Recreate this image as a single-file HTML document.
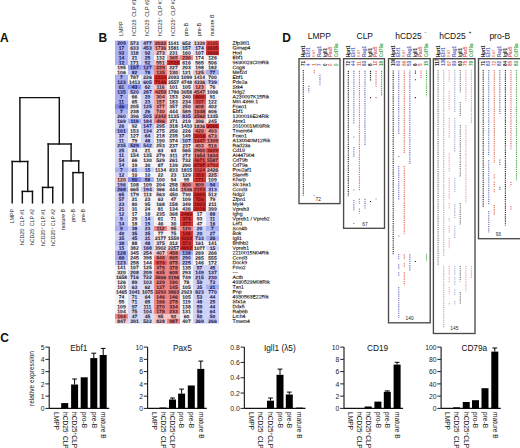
<!DOCTYPE html><html><head><meta charset="utf-8"><style>
html{overflow:hidden;} html,body{margin:0;padding:0;background:#fff;} body{width:520px;height:448px;overflow:hidden;position:relative;font-family:"Liberation Sans", sans-serif;color:#111;}
.t{position:absolute;white-space:nowrap;line-height:1;}
.r{position:absolute;white-space:nowrap;transform-origin:0 0;}
.lbl{position:absolute;font-weight:bold;font-size:12px;line-height:1;}
.hm{position:absolute;left:115px;top:40.6px;width:104px;}
.c{position:absolute;width:13px;height:4.88px;font-size:5.4px;line-height:4.88px;text-align:center;color:#22244a;}
.g{position:absolute;left:232.5px;font-size:5px;line-height:4.88px;height:4.88px;white-space:nowrap;color:#111;}
svg{position:absolute;left:0;top:0;}
</style></head><body>
<div class="lbl" style="left:0px;top:31.6px">A</div>
<div class="lbl" style="left:98.6px;top:31.6px">B</div>
<div class="lbl" style="left:282.2px;top:31.6px">D</div>
<div class="lbl" style="left:0.2px;top:332.3px">C</div>
<div class="t" style="left:14.60px;top:406.06px;width:30px;text-align:right;font-size:6.8px;font-weight:normal;color:#222">0</div>
<div class="t" style="left:14.60px;top:393.80px;width:30px;text-align:right;font-size:6.8px;font-weight:normal;color:#222">1</div>
<div class="t" style="left:14.60px;top:381.54px;width:30px;text-align:right;font-size:6.8px;font-weight:normal;color:#222">2</div>
<div class="t" style="left:14.60px;top:369.28px;width:30px;text-align:right;font-size:6.8px;font-weight:normal;color:#222">3</div>
<div class="t" style="left:14.60px;top:357.02px;width:30px;text-align:right;font-size:6.8px;font-weight:normal;color:#222">4</div>
<div class="t" style="left:14.60px;top:344.76px;width:30px;text-align:right;font-size:6.8px;font-weight:normal;color:#222">5</div>
<div class="r" style="left:59.80px;top:411.60px;width:45px;height:7.59px;line-height:7.59px;font-size:6.6px;color:#111;text-align:left;transform:rotate(90deg);">LMPP</div>
<div class="r" style="left:68.50px;top:411.60px;width:45px;height:7.59px;line-height:7.59px;font-size:6.6px;color:#111;text-align:left;transform:rotate(90deg);">hCD25<span style="font-size:70%;vertical-align:0.45em;line-height:0">-</span> CLP</div>
<div class="r" style="left:78.39px;top:411.60px;width:45px;height:7.59px;line-height:7.59px;font-size:6.6px;color:#111;text-align:left;transform:rotate(90deg);">hCD25<span style="font-size:70%;vertical-align:0.45em;line-height:0">+</span>CLP</div>
<div class="r" style="left:88.00px;top:411.60px;width:45px;height:7.59px;line-height:7.59px;font-size:6.6px;color:#111;text-align:left;transform:rotate(90deg);">pro-B</div>
<div class="r" style="left:97.59px;top:411.60px;width:45px;height:7.59px;line-height:7.59px;font-size:6.6px;color:#111;text-align:left;transform:rotate(90deg);">pre-B</div>
<div class="r" style="left:107.00px;top:411.60px;width:45px;height:7.59px;line-height:7.59px;font-size:6.6px;color:#111;text-align:left;transform:rotate(90deg);">mature B</div>
<div class="t" style="left:70.30px;top:344.30px;font-size:8.3px;">Ebf1</div>
<div class="t" style="left:113.00px;top:406.06px;width:30px;text-align:right;font-size:6.8px;font-weight:normal;color:#222">0</div>
<div class="t" style="left:113.00px;top:393.80px;width:30px;text-align:right;font-size:6.8px;font-weight:normal;color:#222">2</div>
<div class="t" style="left:113.00px;top:381.54px;width:30px;text-align:right;font-size:6.8px;font-weight:normal;color:#222">4</div>
<div class="t" style="left:113.00px;top:369.28px;width:30px;text-align:right;font-size:6.8px;font-weight:normal;color:#222">6</div>
<div class="t" style="left:113.00px;top:357.02px;width:30px;text-align:right;font-size:6.8px;font-weight:normal;color:#222">8</div>
<div class="t" style="left:113.00px;top:344.76px;width:30px;text-align:right;font-size:6.8px;font-weight:normal;color:#222">10</div>
<div class="r" style="left:157.79px;top:411.60px;width:45px;height:7.59px;line-height:7.59px;font-size:6.6px;color:#111;text-align:left;transform:rotate(90deg);">LMPP</div>
<div class="r" style="left:166.79px;top:411.60px;width:45px;height:7.59px;line-height:7.59px;font-size:6.6px;color:#111;text-align:left;transform:rotate(90deg);">hCD25<span style="font-size:70%;vertical-align:0.45em;line-height:0">-</span> CLP</div>
<div class="r" style="left:176.29px;top:411.60px;width:45px;height:7.59px;line-height:7.59px;font-size:6.6px;color:#111;text-align:left;transform:rotate(90deg);">hCD25<span style="font-size:70%;vertical-align:0.45em;line-height:0">+</span>CLP</div>
<div class="r" style="left:185.39px;top:411.60px;width:45px;height:7.59px;line-height:7.59px;font-size:6.6px;color:#111;text-align:left;transform:rotate(90deg);">pro-B</div>
<div class="r" style="left:195.09px;top:411.60px;width:45px;height:7.59px;line-height:7.59px;font-size:6.6px;color:#111;text-align:left;transform:rotate(90deg);">pre-B</div>
<div class="r" style="left:204.59px;top:411.60px;width:45px;height:7.59px;line-height:7.59px;font-size:6.6px;color:#111;text-align:left;transform:rotate(90deg);">mature B</div>
<div class="t" style="left:172.90px;top:344.30px;font-size:8.3px;">Pax5</div>
<div class="t" style="left:209.75px;top:406.06px;width:30px;text-align:right;font-size:6.8px;font-weight:normal;color:#222">0.0</div>
<div class="t" style="left:209.75px;top:390.73px;width:30px;text-align:right;font-size:6.8px;font-weight:normal;color:#222">0.2</div>
<div class="t" style="left:209.75px;top:375.41px;width:30px;text-align:right;font-size:6.8px;font-weight:normal;color:#222">0.4</div>
<div class="t" style="left:209.75px;top:360.08px;width:30px;text-align:right;font-size:6.8px;font-weight:normal;color:#222">0.6</div>
<div class="t" style="left:209.75px;top:344.76px;width:30px;text-align:right;font-size:6.8px;font-weight:normal;color:#222">0.8</div>
<div class="r" style="left:254.79px;top:411.60px;width:45px;height:7.59px;line-height:7.59px;font-size:6.6px;color:#111;text-align:left;transform:rotate(90deg);">LMPP</div>
<div class="r" style="left:264.30px;top:411.60px;width:45px;height:7.59px;line-height:7.59px;font-size:6.6px;color:#111;text-align:left;transform:rotate(90deg);">hCD25<span style="font-size:70%;vertical-align:0.45em;line-height:0">-</span> CLP</div>
<div class="r" style="left:274.30px;top:411.60px;width:45px;height:7.59px;line-height:7.59px;font-size:6.6px;color:#111;text-align:left;transform:rotate(90deg);">hCD25<span style="font-size:70%;vertical-align:0.45em;line-height:0">+</span>CLP</div>
<div class="r" style="left:283.80px;top:411.60px;width:45px;height:7.59px;line-height:7.59px;font-size:6.6px;color:#111;text-align:left;transform:rotate(90deg);">pro-B</div>
<div class="r" style="left:293.10px;top:411.60px;width:45px;height:7.59px;line-height:7.59px;font-size:6.6px;color:#111;text-align:left;transform:rotate(90deg);">pre-B</div>
<div class="r" style="left:303.30px;top:411.60px;width:45px;height:7.59px;line-height:7.59px;font-size:6.6px;color:#111;text-align:left;transform:rotate(90deg);">mature B</div>
<div class="t" style="left:263.90px;top:344.30px;font-size:8.3px;">Igll1 (&lambda;5)</div>
<div class="t" style="left:309.40px;top:406.06px;width:30px;text-align:right;font-size:6.8px;font-weight:normal;color:#222">0</div>
<div class="t" style="left:309.40px;top:393.80px;width:30px;text-align:right;font-size:6.8px;font-weight:normal;color:#222">2</div>
<div class="t" style="left:309.40px;top:381.54px;width:30px;text-align:right;font-size:6.8px;font-weight:normal;color:#222">4</div>
<div class="t" style="left:309.40px;top:369.28px;width:30px;text-align:right;font-size:6.8px;font-weight:normal;color:#222">6</div>
<div class="t" style="left:309.40px;top:357.02px;width:30px;text-align:right;font-size:6.8px;font-weight:normal;color:#222">8</div>
<div class="t" style="left:309.40px;top:344.76px;width:30px;text-align:right;font-size:6.8px;font-weight:normal;color:#222">10</div>
<div class="r" style="left:353.80px;top:411.60px;width:45px;height:7.59px;line-height:7.59px;font-size:6.6px;color:#111;text-align:left;transform:rotate(90deg);">LMPP</div>
<div class="r" style="left:363.30px;top:411.60px;width:45px;height:7.59px;line-height:7.59px;font-size:6.6px;color:#111;text-align:left;transform:rotate(90deg);">hCD25<span style="font-size:70%;vertical-align:0.45em;line-height:0">-</span> CLP</div>
<div class="r" style="left:372.00px;top:411.60px;width:45px;height:7.59px;line-height:7.59px;font-size:6.6px;color:#111;text-align:left;transform:rotate(90deg);">hCD25<span style="font-size:70%;vertical-align:0.45em;line-height:0">+</span>CLP</div>
<div class="r" style="left:381.69px;top:411.60px;width:45px;height:7.59px;line-height:7.59px;font-size:6.6px;color:#111;text-align:left;transform:rotate(90deg);">pro-B</div>
<div class="r" style="left:391.10px;top:411.60px;width:45px;height:7.59px;line-height:7.59px;font-size:6.6px;color:#111;text-align:left;transform:rotate(90deg);">pre-B</div>
<div class="r" style="left:400.90px;top:411.60px;width:45px;height:7.59px;line-height:7.59px;font-size:6.6px;color:#111;text-align:left;transform:rotate(90deg);">mature B</div>
<div class="t" style="left:367.00px;top:344.30px;font-size:8.3px;">CD19</div>
<div class="t" style="left:406.50px;top:406.06px;width:30px;text-align:right;font-size:6.8px;font-weight:normal;color:#222">0</div>
<div class="t" style="left:406.50px;top:393.80px;width:30px;text-align:right;font-size:6.8px;font-weight:normal;color:#222">20</div>
<div class="t" style="left:406.50px;top:381.54px;width:30px;text-align:right;font-size:6.8px;font-weight:normal;color:#222">40</div>
<div class="t" style="left:406.50px;top:369.28px;width:30px;text-align:right;font-size:6.8px;font-weight:normal;color:#222">60</div>
<div class="t" style="left:406.50px;top:357.02px;width:30px;text-align:right;font-size:6.8px;font-weight:normal;color:#222">80</div>
<div class="t" style="left:406.50px;top:344.76px;width:30px;text-align:right;font-size:6.8px;font-weight:normal;color:#222">100</div>
<div class="r" style="left:450.80px;top:411.60px;width:45px;height:7.59px;line-height:7.59px;font-size:6.6px;color:#111;text-align:left;transform:rotate(90deg);">LMPP</div>
<div class="r" style="left:460.40px;top:411.60px;width:45px;height:7.59px;line-height:7.59px;font-size:6.6px;color:#111;text-align:left;transform:rotate(90deg);">hCD25<span style="font-size:70%;vertical-align:0.45em;line-height:0">-</span> CLP</div>
<div class="r" style="left:470.05px;top:411.60px;width:45px;height:7.59px;line-height:7.59px;font-size:6.6px;color:#111;text-align:left;transform:rotate(90deg);">hCD25<span style="font-size:70%;vertical-align:0.45em;line-height:0">+</span>CLP</div>
<div class="r" style="left:479.30px;top:411.60px;width:45px;height:7.59px;line-height:7.59px;font-size:6.6px;color:#111;text-align:left;transform:rotate(90deg);">pro-B</div>
<div class="r" style="left:488.80px;top:411.60px;width:45px;height:7.59px;line-height:7.59px;font-size:6.6px;color:#111;text-align:left;transform:rotate(90deg);">pre-B</div>
<div class="r" style="left:498.60px;top:411.60px;width:45px;height:7.59px;line-height:7.59px;font-size:6.6px;color:#111;text-align:left;transform:rotate(90deg);">mature B</div>
<div class="t" style="left:461.40px;top:344.30px;font-size:8.3px;">CD79a</div>
<div class="r" style="left:27.81px;top:405.60px;width:70px;height:7.59px;line-height:7.59px;font-size:6.6px;color:#1a1a1a;text-align:left;transform:rotate(-90deg);">relative expression</div>
<div class="t" style="left:307.70px;top:32.00px;font-size:8.5px;">LMPP</div>
<div class="r" style="left:300.71px;top:56.80px;width:20px;height:5.17px;line-height:5.17px;font-size:4.5px;color:#1a1a1a;text-align:left;transform:rotate(-90deg);font-weight:bold">Hprt1</div>
<div class="r" style="left:300.66px;top:66.00px;width:10px;height:5.29px;line-height:5.29px;font-size:4.6px;color:#1a1a1a;text-align:left;transform:rotate(-90deg);font-weight:bold">71</div>
<div class="r" style="left:306.26px;top:56.80px;width:20px;height:5.17px;line-height:5.17px;font-size:4.5px;color:#6674c8;text-align:left;transform:rotate(-90deg);font-weight:bold">Ebf1</div>
<div class="r" style="left:306.21px;top:66.00px;width:10px;height:5.29px;line-height:5.29px;font-size:4.6px;color:#5566c8;text-align:left;transform:rotate(-90deg);font-weight:bold">4</div>
<div class="r" style="left:312.10px;top:56.80px;width:20px;height:4.60px;line-height:4.60px;font-size:4.0px;color:#e8845e;text-align:left;transform:rotate(-90deg);font-weight:bold">E47</div>
<div class="r" style="left:311.76px;top:66.00px;width:10px;height:5.29px;line-height:5.29px;font-size:4.6px;color:#e8764e;text-align:left;transform:rotate(-90deg);font-weight:bold">1</div>
<div class="r" style="left:317.36px;top:56.80px;width:20px;height:5.17px;line-height:5.17px;font-size:4.5px;color:#5f6ab8;text-align:left;transform:rotate(-90deg);font-weight:bold">Rag1</div>
<div class="r" style="left:317.31px;top:66.00px;width:10px;height:5.29px;line-height:5.29px;font-size:4.6px;color:#5060b8;text-align:left;transform:rotate(-90deg);font-weight:bold">7</div>
<div class="r" style="left:322.91px;top:56.80px;width:20px;height:5.17px;line-height:5.17px;font-size:4.5px;color:#262626;text-align:left;transform:rotate(-90deg);font-weight:bold">Igll1</div>
<div class="r" style="left:322.86px;top:66.00px;width:10px;height:5.29px;line-height:5.29px;font-size:4.6px;color:#202020;text-align:left;transform:rotate(-90deg);font-weight:bold">0</div>
<div class="r" style="left:328.46px;top:56.80px;width:20px;height:5.17px;line-height:5.17px;font-size:4.5px;color:#e05a62;text-align:left;transform:rotate(-90deg);font-weight:bold">Pax5</div>
<div class="r" style="left:328.41px;top:66.00px;width:10px;height:5.29px;line-height:5.29px;font-size:4.6px;color:#e05a62;text-align:left;transform:rotate(-90deg);font-weight:bold">0</div>
<div class="r" style="left:334.01px;top:56.80px;width:20px;height:5.17px;line-height:5.17px;font-size:4.5px;color:#3fa648;text-align:left;transform:rotate(-90deg);font-weight:bold">Cd79a</div>
<div class="r" style="left:333.96px;top:66.00px;width:10px;height:5.29px;line-height:5.29px;font-size:4.6px;color:#3aa046;text-align:left;transform:rotate(-90deg);font-weight:bold">0</div>
<div class="t" style="left:315.60px;top:197.70px;font-size:4.8px;color:#222;">72</div>
<div class="t" style="left:356.50px;top:32.00px;font-size:8.5px;">CLP</div>
<div class="r" style="left:345.71px;top:56.80px;width:20px;height:5.17px;line-height:5.17px;font-size:4.5px;color:#1a1a1a;text-align:left;transform:rotate(-90deg);font-weight:bold">Hprt1</div>
<div class="r" style="left:345.66px;top:66.00px;width:10px;height:5.29px;line-height:5.29px;font-size:4.6px;color:#1a1a1a;text-align:left;transform:rotate(-90deg);font-weight:bold">72</div>
<div class="r" style="left:351.26px;top:56.80px;width:20px;height:5.17px;line-height:5.17px;font-size:4.5px;color:#6674c8;text-align:left;transform:rotate(-90deg);font-weight:bold">Ebf1</div>
<div class="r" style="left:351.21px;top:66.00px;width:10px;height:5.29px;line-height:5.29px;font-size:4.6px;color:#5566c8;text-align:left;transform:rotate(-90deg);font-weight:bold">44</div>
<div class="r" style="left:357.10px;top:56.80px;width:20px;height:4.60px;line-height:4.60px;font-size:4.0px;color:#e8845e;text-align:left;transform:rotate(-90deg);font-weight:bold">E47</div>
<div class="r" style="left:356.76px;top:66.00px;width:10px;height:5.29px;line-height:5.29px;font-size:4.6px;color:#e8764e;text-align:left;transform:rotate(-90deg);font-weight:bold">11</div>
<div class="r" style="left:362.36px;top:56.80px;width:20px;height:5.17px;line-height:5.17px;font-size:4.5px;color:#5f6ab8;text-align:left;transform:rotate(-90deg);font-weight:bold">Rag1</div>
<div class="r" style="left:362.31px;top:66.00px;width:10px;height:5.29px;line-height:5.29px;font-size:4.6px;color:#5060b8;text-align:left;transform:rotate(-90deg);font-weight:bold">63</div>
<div class="r" style="left:367.91px;top:56.80px;width:20px;height:5.17px;line-height:5.17px;font-size:4.5px;color:#262626;text-align:left;transform:rotate(-90deg);font-weight:bold">Igll1</div>
<div class="r" style="left:367.86px;top:66.00px;width:10px;height:5.29px;line-height:5.29px;font-size:4.6px;color:#202020;text-align:left;transform:rotate(-90deg);font-weight:bold">8</div>
<div class="r" style="left:373.46px;top:56.80px;width:20px;height:5.17px;line-height:5.17px;font-size:4.5px;color:#e05a62;text-align:left;transform:rotate(-90deg);font-weight:bold">Pax5</div>
<div class="r" style="left:373.41px;top:66.00px;width:10px;height:5.29px;line-height:5.29px;font-size:4.6px;color:#e05a62;text-align:left;transform:rotate(-90deg);font-weight:bold">12</div>
<div class="r" style="left:379.01px;top:56.80px;width:20px;height:5.17px;line-height:5.17px;font-size:4.5px;color:#3fa648;text-align:left;transform:rotate(-90deg);font-weight:bold">Cd79a</div>
<div class="r" style="left:378.96px;top:66.00px;width:10px;height:5.29px;line-height:5.29px;font-size:4.6px;color:#3aa046;text-align:left;transform:rotate(-90deg);font-weight:bold">18</div>
<div class="t" style="left:362.30px;top:222.70px;font-size:4.8px;color:#222;">67</div>
<div class="t" style="left:395.20px;top:32.00px;font-size:8.5px;">hCD25 <span style="font-size:60%;position:relative;top:-0.95em;left:0.6px">-</span></div>
<div class="r" style="left:390.61px;top:56.80px;width:20px;height:5.17px;line-height:5.17px;font-size:4.5px;color:#1a1a1a;text-align:left;transform:rotate(-90deg);font-weight:bold">Hprt1</div>
<div class="r" style="left:390.56px;top:66.00px;width:10px;height:5.29px;line-height:5.29px;font-size:4.6px;color:#1a1a1a;text-align:left;transform:rotate(-90deg);font-weight:bold">106</div>
<div class="r" style="left:396.16px;top:56.80px;width:20px;height:5.17px;line-height:5.17px;font-size:4.5px;color:#6674c8;text-align:left;transform:rotate(-90deg);font-weight:bold">Ebf1</div>
<div class="r" style="left:396.11px;top:66.00px;width:10px;height:5.29px;line-height:5.29px;font-size:4.6px;color:#5566c8;text-align:left;transform:rotate(-90deg);font-weight:bold">63</div>
<div class="r" style="left:402.00px;top:56.80px;width:20px;height:4.60px;line-height:4.60px;font-size:4.0px;color:#e8845e;text-align:left;transform:rotate(-90deg);font-weight:bold">E47</div>
<div class="r" style="left:401.66px;top:66.00px;width:10px;height:5.29px;line-height:5.29px;font-size:4.6px;color:#e8764e;text-align:left;transform:rotate(-90deg);font-weight:bold">66</div>
<div class="r" style="left:407.26px;top:56.80px;width:20px;height:5.17px;line-height:5.17px;font-size:4.5px;color:#5f6ab8;text-align:left;transform:rotate(-90deg);font-weight:bold">Rag1</div>
<div class="r" style="left:407.20px;top:66.00px;width:10px;height:5.29px;line-height:5.29px;font-size:4.6px;color:#5060b8;text-align:left;transform:rotate(-90deg);font-weight:bold">53</div>
<div class="r" style="left:412.81px;top:56.80px;width:20px;height:5.17px;line-height:5.17px;font-size:4.5px;color:#262626;text-align:left;transform:rotate(-90deg);font-weight:bold">Igll1</div>
<div class="r" style="left:412.75px;top:66.00px;width:10px;height:5.29px;line-height:5.29px;font-size:4.6px;color:#202020;text-align:left;transform:rotate(-90deg);font-weight:bold">6</div>
<div class="r" style="left:418.36px;top:56.80px;width:20px;height:5.17px;line-height:5.17px;font-size:4.5px;color:#e05a62;text-align:left;transform:rotate(-90deg);font-weight:bold">Pax5</div>
<div class="r" style="left:418.31px;top:66.00px;width:10px;height:5.29px;line-height:5.29px;font-size:4.6px;color:#e05a62;text-align:left;transform:rotate(-90deg);font-weight:bold">5</div>
<div class="r" style="left:423.91px;top:56.80px;width:20px;height:5.17px;line-height:5.17px;font-size:4.5px;color:#3fa648;text-align:left;transform:rotate(-90deg);font-weight:bold">Cd79a</div>
<div class="r" style="left:423.86px;top:66.00px;width:10px;height:5.29px;line-height:5.29px;font-size:4.6px;color:#3aa046;text-align:left;transform:rotate(-90deg);font-weight:bold">15</div>
<div class="t" style="left:405.60px;top:317.10px;font-size:4.8px;color:#222;">140</div>
<div class="t" style="left:439.20px;top:32.00px;font-size:8.5px;">hCD25 <span style="font-size:60%;position:relative;top:-0.95em;left:0.6px">+</span></div>
<div class="r" style="left:435.51px;top:56.80px;width:20px;height:5.17px;line-height:5.17px;font-size:4.5px;color:#1a1a1a;text-align:left;transform:rotate(-90deg);font-weight:bold">Hprt1</div>
<div class="r" style="left:435.45px;top:66.00px;width:10px;height:5.29px;line-height:5.29px;font-size:4.6px;color:#1a1a1a;text-align:left;transform:rotate(-90deg);font-weight:bold">117</div>
<div class="r" style="left:441.06px;top:56.80px;width:20px;height:5.17px;line-height:5.17px;font-size:4.5px;color:#6674c8;text-align:left;transform:rotate(-90deg);font-weight:bold">Ebf1</div>
<div class="r" style="left:441.00px;top:66.00px;width:10px;height:5.29px;line-height:5.29px;font-size:4.6px;color:#5566c8;text-align:left;transform:rotate(-90deg);font-weight:bold">139</div>
<div class="r" style="left:446.90px;top:56.80px;width:20px;height:4.60px;line-height:4.60px;font-size:4.0px;color:#e8845e;text-align:left;transform:rotate(-90deg);font-weight:bold">E47</div>
<div class="r" style="left:446.56px;top:66.00px;width:10px;height:5.29px;line-height:5.29px;font-size:4.6px;color:#e8764e;text-align:left;transform:rotate(-90deg);font-weight:bold">67</div>
<div class="r" style="left:452.16px;top:56.80px;width:20px;height:5.17px;line-height:5.17px;font-size:4.5px;color:#5f6ab8;text-align:left;transform:rotate(-90deg);font-weight:bold">Rag1</div>
<div class="r" style="left:452.10px;top:66.00px;width:10px;height:5.29px;line-height:5.29px;font-size:4.6px;color:#5060b8;text-align:left;transform:rotate(-90deg);font-weight:bold">93</div>
<div class="r" style="left:457.71px;top:56.80px;width:20px;height:5.17px;line-height:5.17px;font-size:4.5px;color:#262626;text-align:left;transform:rotate(-90deg);font-weight:bold">Igll1</div>
<div class="r" style="left:457.65px;top:66.00px;width:10px;height:5.29px;line-height:5.29px;font-size:4.6px;color:#202020;text-align:left;transform:rotate(-90deg);font-weight:bold">63</div>
<div class="r" style="left:463.26px;top:56.80px;width:20px;height:5.17px;line-height:5.17px;font-size:4.5px;color:#e05a62;text-align:left;transform:rotate(-90deg);font-weight:bold">Pax5</div>
<div class="r" style="left:463.20px;top:66.00px;width:10px;height:5.29px;line-height:5.29px;font-size:4.6px;color:#e05a62;text-align:left;transform:rotate(-90deg);font-weight:bold">75</div>
<div class="r" style="left:468.81px;top:56.80px;width:20px;height:5.17px;line-height:5.17px;font-size:4.5px;color:#3fa648;text-align:left;transform:rotate(-90deg);font-weight:bold">Cd79a</div>
<div class="r" style="left:468.75px;top:66.00px;width:10px;height:5.29px;line-height:5.29px;font-size:4.6px;color:#3aa046;text-align:left;transform:rotate(-90deg);font-weight:bold">78</div>
<div class="t" style="left:450.30px;top:327.30px;font-size:4.8px;color:#222;">145</div>
<div class="t" style="left:489.40px;top:32.00px;font-size:8.5px;">pro-B</div>
<div class="r" style="left:480.61px;top:56.80px;width:20px;height:5.17px;line-height:5.17px;font-size:4.5px;color:#1a1a1a;text-align:left;transform:rotate(-90deg);font-weight:bold">Hprt1</div>
<div class="r" style="left:480.56px;top:66.00px;width:10px;height:5.29px;line-height:5.29px;font-size:4.6px;color:#1a1a1a;text-align:left;transform:rotate(-90deg);font-weight:bold">71</div>
<div class="r" style="left:486.16px;top:56.80px;width:20px;height:5.17px;line-height:5.17px;font-size:4.5px;color:#6674c8;text-align:left;transform:rotate(-90deg);font-weight:bold">Ebf1</div>
<div class="r" style="left:486.11px;top:66.00px;width:10px;height:5.29px;line-height:5.29px;font-size:4.6px;color:#5566c8;text-align:left;transform:rotate(-90deg);font-weight:bold">83</div>
<div class="r" style="left:492.00px;top:56.80px;width:20px;height:4.60px;line-height:4.60px;font-size:4.0px;color:#e8845e;text-align:left;transform:rotate(-90deg);font-weight:bold">E47</div>
<div class="r" style="left:491.66px;top:66.00px;width:10px;height:5.29px;line-height:5.29px;font-size:4.6px;color:#e8764e;text-align:left;transform:rotate(-90deg);font-weight:bold">72</div>
<div class="r" style="left:497.26px;top:56.80px;width:20px;height:5.17px;line-height:5.17px;font-size:4.5px;color:#5f6ab8;text-align:left;transform:rotate(-90deg);font-weight:bold">Rag1</div>
<div class="r" style="left:497.20px;top:66.00px;width:10px;height:5.29px;line-height:5.29px;font-size:4.6px;color:#5060b8;text-align:left;transform:rotate(-90deg);font-weight:bold">82</div>
<div class="r" style="left:502.81px;top:56.80px;width:20px;height:5.17px;line-height:5.17px;font-size:4.5px;color:#262626;text-align:left;transform:rotate(-90deg);font-weight:bold">Igll1</div>
<div class="r" style="left:502.75px;top:66.00px;width:10px;height:5.29px;line-height:5.29px;font-size:4.6px;color:#202020;text-align:left;transform:rotate(-90deg);font-weight:bold">84</div>
<div class="r" style="left:508.36px;top:56.80px;width:20px;height:5.17px;line-height:5.17px;font-size:4.5px;color:#e05a62;text-align:left;transform:rotate(-90deg);font-weight:bold">Pax5</div>
<div class="r" style="left:508.31px;top:66.00px;width:10px;height:5.29px;line-height:5.29px;font-size:4.6px;color:#e05a62;text-align:left;transform:rotate(-90deg);font-weight:bold">85</div>
<div class="r" style="left:513.91px;top:56.80px;width:20px;height:5.17px;line-height:5.17px;font-size:4.5px;color:#3fa648;text-align:left;transform:rotate(-90deg);font-weight:bold">Cd79a</div>
<div class="r" style="left:513.86px;top:66.00px;width:10px;height:5.29px;line-height:5.29px;font-size:4.6px;color:#3aa046;text-align:left;transform:rotate(-90deg);font-weight:bold">83</div>
<div class="t" style="left:495.70px;top:233.00px;font-size:4.8px;color:#222;">93</div>
<div class="t" style="left:313.6px;top:194.5px;font-size:4px;">*</div>
<svg width="520" height="448" viewBox="0 0 520 448">
<line x1="19.90" y1="97.60" x2="59.30" y2="97.60" stroke="#111" stroke-width="1.45" stroke-linecap="square"/>
<line x1="19.90" y1="97.60" x2="19.90" y2="161.50" stroke="#111" stroke-width="1.45" stroke-linecap="square"/>
<line x1="12.20" y1="161.50" x2="27.70" y2="161.50" stroke="#111" stroke-width="1.45" stroke-linecap="square"/>
<line x1="12.20" y1="161.50" x2="12.20" y2="202.80" stroke="#111" stroke-width="1.45" stroke-linecap="square"/>
<line x1="27.70" y1="161.50" x2="27.70" y2="191.40" stroke="#111" stroke-width="1.45" stroke-linecap="square"/>
<line x1="22.33" y1="191.40" x2="32.46" y2="191.40" stroke="#111" stroke-width="1.45" stroke-linecap="square"/>
<line x1="22.33" y1="191.40" x2="22.33" y2="202.80" stroke="#111" stroke-width="1.45" stroke-linecap="square"/>
<line x1="32.46" y1="191.40" x2="32.46" y2="202.80" stroke="#111" stroke-width="1.45" stroke-linecap="square"/>
<line x1="59.30" y1="97.60" x2="59.30" y2="144.00" stroke="#111" stroke-width="1.45" stroke-linecap="square"/>
<line x1="48.20" y1="144.00" x2="71.10" y2="144.00" stroke="#111" stroke-width="1.45" stroke-linecap="square"/>
<line x1="48.20" y1="144.00" x2="48.20" y2="187.40" stroke="#111" stroke-width="1.45" stroke-linecap="square"/>
<line x1="42.59" y1="187.40" x2="52.72" y2="187.40" stroke="#111" stroke-width="1.45" stroke-linecap="square"/>
<line x1="42.59" y1="187.40" x2="42.59" y2="202.80" stroke="#111" stroke-width="1.45" stroke-linecap="square"/>
<line x1="52.72" y1="187.40" x2="52.72" y2="202.80" stroke="#111" stroke-width="1.45" stroke-linecap="square"/>
<line x1="71.10" y1="144.00" x2="71.10" y2="160.90" stroke="#111" stroke-width="1.45" stroke-linecap="square"/>
<line x1="62.85" y1="160.90" x2="78.70" y2="160.90" stroke="#111" stroke-width="1.45" stroke-linecap="square"/>
<line x1="62.85" y1="160.90" x2="62.85" y2="202.80" stroke="#111" stroke-width="1.45" stroke-linecap="square"/>
<line x1="78.70" y1="160.90" x2="78.70" y2="172.60" stroke="#111" stroke-width="1.45" stroke-linecap="square"/>
<line x1="72.98" y1="172.60" x2="83.11" y2="172.60" stroke="#111" stroke-width="1.45" stroke-linecap="square"/>
<line x1="72.98" y1="172.60" x2="72.98" y2="202.80" stroke="#111" stroke-width="1.45" stroke-linecap="square"/>
<line x1="83.11" y1="172.60" x2="83.11" y2="202.80" stroke="#111" stroke-width="1.45" stroke-linecap="square"/>
<line x1="49.20" y1="347.10" x2="49.20" y2="408.40" stroke="#111" stroke-width="1.1"/>
<line x1="49.20" y1="408.40" x2="109.20" y2="408.40" stroke="#111" stroke-width="1.1"/>
<line x1="45.40" y1="408.40" x2="49.20" y2="408.40" stroke="#222" stroke-width="1"/>
<line x1="45.40" y1="396.14" x2="49.20" y2="396.14" stroke="#222" stroke-width="1"/>
<line x1="45.40" y1="383.88" x2="49.20" y2="383.88" stroke="#222" stroke-width="1"/>
<line x1="45.40" y1="371.62" x2="49.20" y2="371.62" stroke="#222" stroke-width="1"/>
<line x1="45.40" y1="359.36" x2="49.20" y2="359.36" stroke="#222" stroke-width="1"/>
<line x1="45.40" y1="347.10" x2="49.20" y2="347.10" stroke="#222" stroke-width="1"/>
<rect x="61.20" y="403.10" width="7" height="5.30" fill="#000"/>
<rect x="71.10" y="384.50" width="7" height="23.90" fill="#000"/>
<line x1="74.60" y1="379.00" x2="74.60" y2="384.50" stroke="#000" stroke-width="1"/>
<line x1="72.20" y1="379.00" x2="77.00" y2="379.00" stroke="#000" stroke-width="1"/>
<rect x="80.70" y="377.30" width="7" height="31.10" fill="#000"/>
<rect x="90.30" y="358.10" width="7" height="50.30" fill="#000"/>
<line x1="93.80" y1="353.20" x2="93.80" y2="358.10" stroke="#000" stroke-width="1"/>
<line x1="91.40" y1="353.20" x2="96.20" y2="353.20" stroke="#000" stroke-width="1"/>
<rect x="99.70" y="355.00" width="7" height="53.40" fill="#000"/>
<line x1="103.20" y1="348.40" x2="103.20" y2="355.00" stroke="#000" stroke-width="1"/>
<line x1="100.80" y1="348.40" x2="105.60" y2="348.40" stroke="#000" stroke-width="1"/>
<line x1="147.60" y1="347.10" x2="147.60" y2="408.40" stroke="#111" stroke-width="1.1"/>
<line x1="147.60" y1="408.40" x2="206.80" y2="408.40" stroke="#111" stroke-width="1.1"/>
<line x1="143.80" y1="408.40" x2="147.60" y2="408.40" stroke="#222" stroke-width="1"/>
<line x1="143.80" y1="396.14" x2="147.60" y2="396.14" stroke="#222" stroke-width="1"/>
<line x1="143.80" y1="383.88" x2="147.60" y2="383.88" stroke="#222" stroke-width="1"/>
<line x1="143.80" y1="371.62" x2="147.60" y2="371.62" stroke="#222" stroke-width="1"/>
<line x1="143.80" y1="359.36" x2="147.60" y2="359.36" stroke="#222" stroke-width="1"/>
<line x1="143.80" y1="347.10" x2="147.60" y2="347.10" stroke="#222" stroke-width="1"/>
<rect x="159.50" y="407.50" width="7" height="0.90" fill="#000"/>
<rect x="169.00" y="399.50" width="7" height="8.90" fill="#000"/>
<line x1="172.50" y1="398.00" x2="172.50" y2="399.50" stroke="#000" stroke-width="1"/>
<line x1="170.10" y1="398.00" x2="174.90" y2="398.00" stroke="#000" stroke-width="1"/>
<rect x="178.10" y="393.60" width="7" height="14.80" fill="#000"/>
<line x1="181.60" y1="389.10" x2="181.60" y2="393.60" stroke="#000" stroke-width="1"/>
<line x1="179.20" y1="389.10" x2="184.00" y2="389.10" stroke="#000" stroke-width="1"/>
<rect x="187.80" y="385.50" width="7" height="22.90" fill="#000"/>
<rect x="197.30" y="368.90" width="7" height="39.50" fill="#000"/>
<line x1="200.80" y1="361.10" x2="200.80" y2="368.90" stroke="#000" stroke-width="1"/>
<line x1="198.40" y1="361.10" x2="203.20" y2="361.10" stroke="#000" stroke-width="1"/>
<line x1="244.35" y1="347.10" x2="244.35" y2="408.40" stroke="#111" stroke-width="1.1"/>
<line x1="244.35" y1="408.40" x2="305.50" y2="408.40" stroke="#111" stroke-width="1.1"/>
<line x1="240.55" y1="408.40" x2="244.35" y2="408.40" stroke="#222" stroke-width="1"/>
<line x1="240.55" y1="393.07" x2="244.35" y2="393.07" stroke="#222" stroke-width="1"/>
<line x1="240.55" y1="377.75" x2="244.35" y2="377.75" stroke="#222" stroke-width="1"/>
<line x1="240.55" y1="362.43" x2="244.35" y2="362.43" stroke="#222" stroke-width="1"/>
<line x1="240.55" y1="347.10" x2="244.35" y2="347.10" stroke="#222" stroke-width="1"/>
<rect x="267.00" y="400.70" width="7" height="7.70" fill="#000"/>
<line x1="270.50" y1="398.00" x2="270.50" y2="400.70" stroke="#000" stroke-width="1"/>
<line x1="268.10" y1="398.00" x2="272.90" y2="398.00" stroke="#000" stroke-width="1"/>
<rect x="276.50" y="374.80" width="7" height="33.60" fill="#000"/>
<line x1="280.00" y1="369.10" x2="280.00" y2="374.80" stroke="#000" stroke-width="1"/>
<line x1="277.60" y1="369.10" x2="282.40" y2="369.10" stroke="#000" stroke-width="1"/>
<rect x="285.80" y="394.50" width="7" height="13.90" fill="#000"/>
<line x1="289.30" y1="392.10" x2="289.30" y2="394.50" stroke="#000" stroke-width="1"/>
<line x1="286.90" y1="392.10" x2="291.70" y2="392.10" stroke="#000" stroke-width="1"/>
<rect x="296.00" y="407.60" width="7" height="0.80" fill="#000"/>
<line x1="344.00" y1="347.10" x2="344.00" y2="408.40" stroke="#111" stroke-width="1.1"/>
<line x1="344.00" y1="408.40" x2="403.10" y2="408.40" stroke="#111" stroke-width="1.1"/>
<line x1="340.20" y1="408.40" x2="344.00" y2="408.40" stroke="#222" stroke-width="1"/>
<line x1="340.20" y1="396.14" x2="344.00" y2="396.14" stroke="#222" stroke-width="1"/>
<line x1="340.20" y1="383.88" x2="344.00" y2="383.88" stroke="#222" stroke-width="1"/>
<line x1="340.20" y1="371.62" x2="344.00" y2="371.62" stroke="#222" stroke-width="1"/>
<line x1="340.20" y1="359.36" x2="344.00" y2="359.36" stroke="#222" stroke-width="1"/>
<line x1="340.20" y1="347.10" x2="344.00" y2="347.10" stroke="#222" stroke-width="1"/>
<rect x="364.70" y="406.50" width="7" height="1.90" fill="#000"/>
<rect x="374.40" y="401.60" width="7" height="6.80" fill="#000"/>
<rect x="383.80" y="391.80" width="7" height="16.60" fill="#000"/>
<line x1="387.30" y1="390.90" x2="387.30" y2="391.80" stroke="#000" stroke-width="1"/>
<line x1="384.90" y1="390.90" x2="389.70" y2="390.90" stroke="#000" stroke-width="1"/>
<rect x="393.60" y="364.60" width="7" height="43.80" fill="#000"/>
<line x1="397.10" y1="362.30" x2="397.10" y2="364.60" stroke="#000" stroke-width="1"/>
<line x1="394.70" y1="362.30" x2="399.50" y2="362.30" stroke="#000" stroke-width="1"/>
<line x1="441.10" y1="347.10" x2="441.10" y2="408.40" stroke="#111" stroke-width="1.1"/>
<line x1="441.10" y1="408.40" x2="500.80" y2="408.40" stroke="#111" stroke-width="1.1"/>
<line x1="437.30" y1="408.40" x2="441.10" y2="408.40" stroke="#222" stroke-width="1"/>
<line x1="437.30" y1="396.14" x2="441.10" y2="396.14" stroke="#222" stroke-width="1"/>
<line x1="437.30" y1="383.88" x2="441.10" y2="383.88" stroke="#222" stroke-width="1"/>
<line x1="437.30" y1="371.62" x2="441.10" y2="371.62" stroke="#222" stroke-width="1"/>
<line x1="437.30" y1="359.36" x2="441.10" y2="359.36" stroke="#222" stroke-width="1"/>
<line x1="437.30" y1="347.10" x2="441.10" y2="347.10" stroke="#222" stroke-width="1"/>
<rect x="453.10" y="407.30" width="7" height="1.10" fill="#000"/>
<rect x="462.75" y="402.00" width="7" height="6.40" fill="#000"/>
<rect x="472.00" y="400.20" width="7" height="8.20" fill="#000"/>
<rect x="481.50" y="388.20" width="7" height="20.20" fill="#000"/>
<rect x="491.30" y="351.60" width="7" height="56.80" fill="#000"/>
<line x1="494.80" y1="348.00" x2="494.80" y2="351.60" stroke="#000" stroke-width="1"/>
<line x1="492.40" y1="348.00" x2="497.20" y2="348.00" stroke="#000" stroke-width="1"/>
<rect x="299.00" y="58.70" width="41.00" height="144.90" fill="none" stroke="#4a4a4a" stroke-width="1.35"/>
<line x1="303.30" y1="70.00" x2="303.30" y2="195.60" stroke="#303030" stroke-width="1.15" stroke-dasharray="1.2 0.95" opacity="1.0"/>
<line x1="308.85" y1="85.80" x2="308.85" y2="92.80" stroke="#7078c4" stroke-width="1.15" stroke-dasharray="1.2 0.95" opacity="1.0"/>
<line x1="314.40" y1="70.00" x2="314.40" y2="73.30" stroke="#e2705a" stroke-width="1.15" stroke-dasharray="1.2 0.95" opacity="1.0"/>
<line x1="319.95" y1="74.80" x2="319.95" y2="85.80" stroke="#6a72c0" stroke-width="1.15" stroke-dasharray="1.2 0.95" opacity="1.0"/>
<rect x="343.60" y="58.70" width="40.90" height="169.60" fill="none" stroke="#4a4a4a" stroke-width="1.35"/>
<line x1="348.30" y1="70.70" x2="348.30" y2="196.30" stroke="#303030" stroke-width="1.15" stroke-dasharray="1.2 0.95" opacity="1.0"/>
<line x1="353.85" y1="70.70" x2="353.85" y2="123.40" stroke="#7078c4" stroke-width="1.15" stroke-dasharray="1.2 0.95" opacity="1.0"/>
<line x1="353.85" y1="136.50" x2="353.85" y2="137.50" stroke="#7078c4" stroke-width="1.15" stroke-dasharray="1.2 0.95" opacity="1.0"/>
<line x1="353.85" y1="147.00" x2="353.85" y2="157.00" stroke="#7078c4" stroke-width="1.15" stroke-dasharray="1.2 0.95" opacity="1.0"/>
<line x1="353.85" y1="189.50" x2="353.85" y2="190.50" stroke="#7078c4" stroke-width="1.15" stroke-dasharray="1.2 0.95" opacity="1.0"/>
<line x1="353.85" y1="200.00" x2="353.85" y2="211.00" stroke="#7078c4" stroke-width="1.15" stroke-dasharray="1.2 0.95" opacity="1.0"/>
<line x1="353.85" y1="223.00" x2="353.85" y2="224.00" stroke="#7078c4" stroke-width="1.15" stroke-dasharray="1.2 0.95" opacity="1.0"/>
<line x1="359.40" y1="70.70" x2="359.40" y2="190.20" stroke="#e2705a" stroke-width="1.15" stroke-dasharray="1.2 0.95" opacity="1.0"/>
<line x1="359.40" y1="198.80" x2="359.40" y2="203.70" stroke="#e2705a" stroke-width="1.15" stroke-dasharray="1.2 0.95" opacity="1.0"/>
<line x1="359.40" y1="208.60" x2="359.40" y2="213.50" stroke="#e2705a" stroke-width="1.15" stroke-dasharray="1.2 0.95" opacity="1.0"/>
<line x1="364.95" y1="70.70" x2="364.95" y2="146.00" stroke="#6a72c0" stroke-width="1.15" stroke-dasharray="1.2 0.95" opacity="1.0"/>
<line x1="364.95" y1="198.80" x2="364.95" y2="208.60" stroke="#6a72c0" stroke-width="1.15" stroke-dasharray="1.2 0.95" opacity="1.0"/>
<line x1="370.50" y1="70.70" x2="370.50" y2="80.50" stroke="#2a2a2a" stroke-width="1.15" stroke-dasharray="1.2 0.95" opacity="1.0"/>
<line x1="370.50" y1="97.00" x2="370.50" y2="98.50" stroke="#2a2a2a" stroke-width="1.15" stroke-dasharray="1.2 0.95" opacity="1.0"/>
<line x1="370.50" y1="201.00" x2="370.50" y2="202.00" stroke="#2a2a2a" stroke-width="1.15" stroke-dasharray="1.2 0.95" opacity="1.0"/>
<line x1="376.05" y1="70.70" x2="376.05" y2="86.80" stroke="#e06a70" stroke-width="1.15" stroke-dasharray="1.2 0.95" opacity="1.0"/>
<line x1="376.05" y1="97.00" x2="376.05" y2="98.50" stroke="#e06a70" stroke-width="1.15" stroke-dasharray="1.2 0.95" opacity="1.0"/>
<line x1="376.05" y1="198.50" x2="376.05" y2="199.50" stroke="#e06a70" stroke-width="1.15" stroke-dasharray="1.2 0.95" opacity="1.0"/>
<line x1="381.60" y1="70.70" x2="381.60" y2="95.70" stroke="#4cb050" stroke-width="1.15" stroke-dasharray="1.2 0.95" opacity="1.0"/>
<rect x="388.50" y="58.70" width="41.70" height="264.10" fill="none" stroke="#4a4a4a" stroke-width="1.35"/>
<line x1="393.20" y1="70.40" x2="393.20" y2="254.30" stroke="#303030" stroke-width="1.15" stroke-dasharray="1.2 0.95" opacity="1.0"/>
<line x1="398.75" y1="70.40" x2="398.75" y2="135.00" stroke="#7078c4" stroke-width="1.15" stroke-dasharray="1.2 0.95" opacity="1.0"/>
<line x1="398.75" y1="156.00" x2="398.75" y2="157.00" stroke="#7078c4" stroke-width="1.15" stroke-dasharray="1.2 0.95" opacity="1.0"/>
<line x1="398.75" y1="166.00" x2="398.75" y2="200.00" stroke="#7078c4" stroke-width="1.15" stroke-dasharray="1.2 0.95" opacity="1.0"/>
<line x1="398.75" y1="235.50" x2="398.75" y2="236.50" stroke="#7078c4" stroke-width="1.15" stroke-dasharray="1.2 0.95" opacity="1.0"/>
<line x1="398.75" y1="254.00" x2="398.75" y2="259.30" stroke="#7078c4" stroke-width="1.15" stroke-dasharray="1.2 0.95" opacity="1.0"/>
<line x1="398.75" y1="264.30" x2="398.75" y2="269.30" stroke="#7078c4" stroke-width="1.15" stroke-dasharray="1.2 0.95" opacity="1.0"/>
<line x1="398.75" y1="272.30" x2="398.75" y2="276.00" stroke="#7078c4" stroke-width="1.15" stroke-dasharray="1.2 0.95" opacity="1.0"/>
<line x1="398.75" y1="287.00" x2="398.75" y2="317.70" stroke="#7078c4" stroke-width="1.15" stroke-dasharray="1.2 0.95" opacity="1.0"/>
<line x1="404.30" y1="70.40" x2="404.30" y2="153.00" stroke="#e2705a" stroke-width="1.15" stroke-dasharray="1.2 0.95" opacity="1.0"/>
<line x1="404.30" y1="166.00" x2="404.30" y2="234.20" stroke="#e2705a" stroke-width="1.15" stroke-dasharray="1.2 0.95" opacity="1.0"/>
<line x1="404.30" y1="254.30" x2="404.30" y2="259.30" stroke="#e2705a" stroke-width="1.15" stroke-dasharray="1.2 0.95" opacity="1.0"/>
<line x1="404.30" y1="263.30" x2="404.30" y2="267.30" stroke="#e2705a" stroke-width="1.15" stroke-dasharray="1.2 0.95" opacity="1.0"/>
<line x1="404.30" y1="272.30" x2="404.30" y2="285.60" stroke="#e2705a" stroke-width="1.15" stroke-dasharray="1.2 0.95" opacity="1.0"/>
<line x1="409.85" y1="70.40" x2="409.85" y2="165.00" stroke="#6a72c0" stroke-width="1.15" stroke-dasharray="1.2 0.95" opacity="1.0"/>
<line x1="409.85" y1="254.30" x2="409.85" y2="271.60" stroke="#6a72c0" stroke-width="1.15" stroke-dasharray="1.2 0.95" opacity="1.0"/>
<line x1="415.40" y1="70.40" x2="415.40" y2="73.80" stroke="#2a2a2a" stroke-width="1.15" stroke-dasharray="1.2 0.95" opacity="1.0"/>
<line x1="415.40" y1="79.30" x2="415.40" y2="80.30" stroke="#2a2a2a" stroke-width="1.15" stroke-dasharray="1.2 0.95" opacity="1.0"/>
<line x1="415.40" y1="97.00" x2="415.40" y2="99.00" stroke="#2a2a2a" stroke-width="1.15" stroke-dasharray="1.2 0.95" opacity="1.0"/>
<line x1="415.40" y1="261.00" x2="415.40" y2="262.00" stroke="#2a2a2a" stroke-width="1.15" stroke-dasharray="1.2 0.95" opacity="1.0"/>
<line x1="420.95" y1="70.40" x2="420.95" y2="78.50" stroke="#e06a70" stroke-width="1.15" stroke-dasharray="1.2 0.95" opacity="1.0"/>
<line x1="426.50" y1="70.40" x2="426.50" y2="96.60" stroke="#4cb050" stroke-width="1.15" stroke-dasharray="1.2 0.95" opacity="1.0"/>
<line x1="426.50" y1="254.30" x2="426.50" y2="261.30" stroke="#4cb050" stroke-width="1.15" stroke-dasharray="1.2 0.95" opacity="1.0"/>
<rect x="433.40" y="58.70" width="41.60" height="274.80" fill="none" stroke="#4a4a4a" stroke-width="1.35"/>
<line x1="438.10" y1="70.00" x2="438.10" y2="266.00" stroke="#303030" stroke-width="1.15" stroke-dasharray="1.2 0.95" opacity="0.6"/>
<line x1="443.65" y1="70.00" x2="443.65" y2="257.00" stroke="#7078c4" stroke-width="1.15" stroke-dasharray="1.2 0.95" opacity="0.6"/>
<line x1="443.65" y1="266.00" x2="443.65" y2="327.80" stroke="#7078c4" stroke-width="1.15" stroke-dasharray="1.2 0.95" opacity="0.6"/>
<line x1="449.20" y1="70.00" x2="449.20" y2="81.80" stroke="#e2705a" stroke-width="1.15" stroke-dasharray="1.2 0.95" opacity="0.6"/>
<line x1="449.20" y1="91.00" x2="449.20" y2="110.00" stroke="#e2705a" stroke-width="1.15" stroke-dasharray="1.2 0.95" opacity="0.6"/>
<line x1="449.20" y1="118.00" x2="449.20" y2="138.00" stroke="#e2705a" stroke-width="1.15" stroke-dasharray="1.2 0.95" opacity="0.6"/>
<line x1="449.20" y1="153.00" x2="449.20" y2="172.00" stroke="#e2705a" stroke-width="1.15" stroke-dasharray="1.2 0.95" opacity="0.6"/>
<line x1="449.20" y1="178.00" x2="449.20" y2="199.00" stroke="#e2705a" stroke-width="1.15" stroke-dasharray="1.2 0.95" opacity="0.6"/>
<line x1="449.20" y1="203.00" x2="449.20" y2="209.00" stroke="#e2705a" stroke-width="1.15" stroke-dasharray="1.2 0.95" opacity="0.6"/>
<line x1="449.20" y1="218.00" x2="449.20" y2="222.00" stroke="#e2705a" stroke-width="1.15" stroke-dasharray="1.2 0.95" opacity="0.6"/>
<line x1="449.20" y1="226.00" x2="449.20" y2="233.00" stroke="#e2705a" stroke-width="1.15" stroke-dasharray="1.2 0.95" opacity="0.6"/>
<line x1="449.20" y1="238.00" x2="449.20" y2="249.00" stroke="#e2705a" stroke-width="1.15" stroke-dasharray="1.2 0.95" opacity="0.6"/>
<line x1="449.20" y1="266.00" x2="449.20" y2="275.00" stroke="#e2705a" stroke-width="1.15" stroke-dasharray="1.2 0.95" opacity="0.6"/>
<line x1="449.20" y1="277.00" x2="449.20" y2="283.00" stroke="#e2705a" stroke-width="1.15" stroke-dasharray="1.2 0.95" opacity="0.6"/>
<line x1="449.20" y1="287.00" x2="449.20" y2="294.00" stroke="#e2705a" stroke-width="1.15" stroke-dasharray="1.2 0.95" opacity="0.6"/>
<line x1="449.20" y1="303.00" x2="449.20" y2="305.50" stroke="#e2705a" stroke-width="1.15" stroke-dasharray="1.2 0.95" opacity="0.6"/>
<line x1="454.75" y1="70.00" x2="454.75" y2="112.00" stroke="#6a72c0" stroke-width="1.15" stroke-dasharray="1.2 0.95" opacity="0.6"/>
<line x1="454.75" y1="118.00" x2="454.75" y2="152.00" stroke="#6a72c0" stroke-width="1.15" stroke-dasharray="1.2 0.95" opacity="0.6"/>
<line x1="454.75" y1="178.00" x2="454.75" y2="192.00" stroke="#6a72c0" stroke-width="1.15" stroke-dasharray="1.2 0.95" opacity="0.6"/>
<line x1="454.75" y1="204.00" x2="454.75" y2="218.00" stroke="#6a72c0" stroke-width="1.15" stroke-dasharray="1.2 0.95" opacity="0.6"/>
<line x1="454.75" y1="226.00" x2="454.75" y2="238.00" stroke="#6a72c0" stroke-width="1.15" stroke-dasharray="1.2 0.95" opacity="0.6"/>
<line x1="454.75" y1="266.00" x2="454.75" y2="275.00" stroke="#6a72c0" stroke-width="1.15" stroke-dasharray="1.2 0.95" opacity="0.6"/>
<line x1="454.75" y1="277.00" x2="454.75" y2="285.00" stroke="#6a72c0" stroke-width="1.15" stroke-dasharray="1.2 0.95" opacity="0.6"/>
<line x1="454.75" y1="289.50" x2="454.75" y2="295.70" stroke="#6a72c0" stroke-width="1.15" stroke-dasharray="1.2 0.95" opacity="0.6"/>
<line x1="454.75" y1="301.00" x2="454.75" y2="305.50" stroke="#6a72c0" stroke-width="1.15" stroke-dasharray="1.2 0.95" opacity="0.6"/>
<line x1="460.30" y1="70.00" x2="460.30" y2="92.50" stroke="#2a2a2a" stroke-width="1.15" stroke-dasharray="1.2 0.95" opacity="0.6"/>
<line x1="460.30" y1="102.00" x2="460.30" y2="116.00" stroke="#2a2a2a" stroke-width="1.15" stroke-dasharray="1.2 0.95" opacity="0.6"/>
<line x1="460.30" y1="125.00" x2="460.30" y2="177.00" stroke="#2a2a2a" stroke-width="1.15" stroke-dasharray="1.2 0.95" opacity="0.6"/>
<line x1="460.30" y1="203.00" x2="460.30" y2="225.00" stroke="#2a2a2a" stroke-width="1.15" stroke-dasharray="1.2 0.95" opacity="0.6"/>
<line x1="460.30" y1="266.00" x2="460.30" y2="281.40" stroke="#2a2a2a" stroke-width="1.15" stroke-dasharray="1.2 0.95" opacity="0.6"/>
<line x1="460.30" y1="292.00" x2="460.30" y2="303.75" stroke="#2a2a2a" stroke-width="1.15" stroke-dasharray="1.2 0.95" opacity="0.6"/>
<line x1="465.85" y1="70.00" x2="465.85" y2="101.20" stroke="#e06a70" stroke-width="1.15" stroke-dasharray="1.2 0.95" opacity="0.6"/>
<line x1="465.85" y1="125.00" x2="465.85" y2="203.00" stroke="#e06a70" stroke-width="1.15" stroke-dasharray="1.2 0.95" opacity="0.6"/>
<line x1="465.85" y1="266.00" x2="465.85" y2="292.00" stroke="#e06a70" stroke-width="1.15" stroke-dasharray="1.2 0.95" opacity="0.6"/>
<line x1="471.40" y1="70.00" x2="471.40" y2="124.00" stroke="#4cb050" stroke-width="1.15" stroke-dasharray="1.2 0.95" opacity="0.6"/>
<line x1="471.40" y1="266.00" x2="471.40" y2="278.75" stroke="#4cb050" stroke-width="1.15" stroke-dasharray="1.2 0.95" opacity="0.6"/>
<rect x="478.50" y="58.70" width="81.50" height="180.00" fill="none" stroke="#4a4a4a" stroke-width="1.35"/>
<line x1="483.20" y1="70.00" x2="483.20" y2="207.00" stroke="#303030" stroke-width="1.15" stroke-dasharray="1.2 0.95" opacity="1.0"/>
<line x1="488.75" y1="70.00" x2="488.75" y2="155.00" stroke="#7078c4" stroke-width="1.15" stroke-dasharray="1.2 0.95" opacity="1.0"/>
<line x1="488.75" y1="160.00" x2="488.75" y2="205.00" stroke="#7078c4" stroke-width="1.15" stroke-dasharray="1.2 0.95" opacity="1.0"/>
<line x1="488.75" y1="211.00" x2="488.75" y2="233.00" stroke="#7078c4" stroke-width="1.15" stroke-dasharray="1.2 0.95" opacity="1.0"/>
<line x1="494.30" y1="70.00" x2="494.30" y2="163.00" stroke="#e2705a" stroke-width="1.15" stroke-dasharray="1.2 0.95" opacity="1.0"/>
<line x1="494.30" y1="174.40" x2="494.30" y2="179.30" stroke="#e2705a" stroke-width="1.15" stroke-dasharray="1.2 0.95" opacity="1.0"/>
<line x1="494.30" y1="181.80" x2="494.30" y2="186.70" stroke="#e2705a" stroke-width="1.15" stroke-dasharray="1.2 0.95" opacity="1.0"/>
<line x1="494.30" y1="189.00" x2="494.30" y2="192.80" stroke="#e2705a" stroke-width="1.15" stroke-dasharray="1.2 0.95" opacity="1.0"/>
<line x1="494.30" y1="205.00" x2="494.30" y2="215.00" stroke="#e2705a" stroke-width="1.15" stroke-dasharray="1.2 0.95" opacity="1.0"/>
<line x1="499.85" y1="70.00" x2="499.85" y2="114.00" stroke="#6a72c0" stroke-width="1.15" stroke-dasharray="1.2 0.95" opacity="1.0"/>
<line x1="499.85" y1="159.60" x2="499.85" y2="165.80" stroke="#6a72c0" stroke-width="1.15" stroke-dasharray="1.2 0.95" opacity="1.0"/>
<line x1="499.85" y1="186.70" x2="499.85" y2="190.40" stroke="#6a72c0" stroke-width="1.15" stroke-dasharray="1.2 0.95" opacity="1.0"/>
<line x1="505.40" y1="70.00" x2="505.40" y2="225.60" stroke="#2a2a2a" stroke-width="1.15" stroke-dasharray="1.2 0.95" opacity="1.0"/>
<line x1="510.95" y1="70.00" x2="510.95" y2="149.80" stroke="#e06a70" stroke-width="1.15" stroke-dasharray="1.2 0.95" opacity="1.0"/>
<line x1="510.95" y1="181.80" x2="510.95" y2="185.50" stroke="#e06a70" stroke-width="1.15" stroke-dasharray="1.2 0.95" opacity="1.0"/>
<line x1="510.95" y1="206.30" x2="510.95" y2="210.00" stroke="#e06a70" stroke-width="1.15" stroke-dasharray="1.2 0.95" opacity="1.0"/>
<line x1="516.50" y1="70.00" x2="516.50" y2="180.50" stroke="#4cb050" stroke-width="1.15" stroke-dasharray="1.2 0.95" opacity="1.0"/>
</svg>
<div class="r" style="left:9.21px;top:254.30px;width:45px;height:5.98px;line-height:5.98px;font-size:5.2px;color:#222;text-align:right;transform:rotate(-90deg);">LMPP</div>
<div class="r" style="left:19.34px;top:254.30px;width:45px;height:5.98px;line-height:5.98px;font-size:5.2px;color:#222;text-align:right;transform:rotate(-90deg);">hCD25<span style="font-size:70%;vertical-align:0.45em;line-height:0">-</span> CLP #1</div>
<div class="r" style="left:29.47px;top:254.30px;width:45px;height:5.98px;line-height:5.98px;font-size:5.2px;color:#222;text-align:right;transform:rotate(-90deg);">hCD25<span style="font-size:70%;vertical-align:0.45em;line-height:0">-</span> CLP #2</div>
<div class="r" style="left:39.60px;top:254.30px;width:45px;height:5.98px;line-height:5.98px;font-size:5.2px;color:#222;text-align:right;transform:rotate(-90deg);">hCD25<span style="font-size:70%;vertical-align:0.45em;line-height:0">+</span> CLP #1</div>
<div class="r" style="left:49.73px;top:254.30px;width:45px;height:5.98px;line-height:5.98px;font-size:5.2px;color:#222;text-align:right;transform:rotate(-90deg);">hCD25<span style="font-size:70%;vertical-align:0.45em;line-height:0">+</span> CLP #2</div>
<div class="r" style="left:59.86px;top:254.30px;width:45px;height:5.98px;line-height:5.98px;font-size:5.2px;color:#222;text-align:right;transform:rotate(-90deg);">mature B</div>
<div class="r" style="left:69.99px;top:254.30px;width:45px;height:5.98px;line-height:5.98px;font-size:5.2px;color:#222;text-align:right;transform:rotate(-90deg);">pro-B</div>
<div class="r" style="left:80.12px;top:254.30px;width:45px;height:5.98px;line-height:5.98px;font-size:5.2px;color:#222;text-align:right;transform:rotate(-90deg);">pre-B</div>
<svg width="520" height="448"><rect x="115" y="40.60" width="13.4" height="5.3" fill="rgb(168,176,240)"/><rect x="128" y="40.60" width="13.4" height="5.3" fill="rgb(222,223,246)"/><rect x="141" y="40.60" width="13.4" height="5.3" fill="rgb(195,200,244)"/><rect x="154" y="40.60" width="13.4" height="5.3" fill="rgb(236,132,132)"/><rect x="167" y="40.60" width="13.4" height="5.3" fill="rgb(246,243,246)"/><rect x="180" y="40.60" width="13.4" height="5.3" fill="rgb(230,230,246)"/><rect x="193" y="40.60" width="13.4" height="5.3" fill="rgb(246,220,222)"/><rect x="206" y="40.60" width="13" height="5.3" fill="rgb(224,92,92)"/><rect x="115" y="45.48" width="13.4" height="5.3" fill="rgb(168,176,240)"/><rect x="128" y="45.48" width="13.4" height="5.3" fill="rgb(222,223,246)"/><rect x="141" y="45.48" width="13.4" height="5.3" fill="rgb(195,200,244)"/><rect x="154" y="45.48" width="13.4" height="5.3" fill="rgb(241,165,165)"/><rect x="167" y="45.48" width="13.4" height="5.3" fill="rgb(246,243,246)"/><rect x="180" y="45.48" width="13.4" height="5.3" fill="rgb(214,217,246)"/><rect x="193" y="45.48" width="13.4" height="5.3" fill="rgb(210,213,246)"/><rect x="206" y="45.48" width="13" height="5.3" fill="rgb(212,52,52)"/><rect x="115" y="50.36" width="13.4" height="5.3" fill="rgb(168,176,240)"/><rect x="128" y="50.36" width="13.4" height="5.3" fill="rgb(222,223,246)"/><rect x="141" y="50.36" width="13.4" height="5.3" fill="rgb(195,200,244)"/><rect x="154" y="50.36" width="13.4" height="5.3" fill="rgb(246,198,198)"/><rect x="167" y="50.36" width="13.4" height="5.3" fill="rgb(246,243,246)"/><rect x="180" y="50.36" width="13.4" height="5.3" fill="rgb(246,243,246)"/><rect x="193" y="50.36" width="13.4" height="5.3" fill="rgb(226,226,246)"/><rect x="206" y="50.36" width="13" height="5.3" fill="rgb(212,52,52)"/><rect x="115" y="55.24" width="13.4" height="5.3" fill="rgb(168,176,240)"/><rect x="128" y="55.24" width="13.4" height="5.3" fill="rgb(222,223,246)"/><rect x="141" y="55.24" width="13.4" height="5.3" fill="rgb(195,200,244)"/><rect x="154" y="55.24" width="13.4" height="5.3" fill="rgb(246,243,246)"/><rect x="167" y="55.24" width="13.4" height="5.3" fill="rgb(241,165,165)"/><rect x="180" y="55.24" width="13.4" height="5.3" fill="rgb(236,132,132)"/><rect x="193" y="55.24" width="13.4" height="5.3" fill="rgb(246,243,246)"/><rect x="206" y="55.24" width="13" height="5.3" fill="rgb(246,243,246)"/><rect x="115" y="60.12" width="13.4" height="5.3" fill="rgb(168,176,240)"/><rect x="128" y="60.12" width="13.4" height="5.3" fill="rgb(222,223,246)"/><rect x="141" y="60.12" width="13.4" height="5.3" fill="rgb(195,200,244)"/><rect x="154" y="60.12" width="13.4" height="5.3" fill="rgb(246,198,198)"/><rect x="167" y="60.12" width="13.4" height="5.3" fill="rgb(212,52,52)"/><rect x="180" y="60.12" width="13.4" height="5.3" fill="rgb(246,243,246)"/><rect x="193" y="60.12" width="13.4" height="5.3" fill="rgb(246,243,246)"/><rect x="206" y="60.12" width="13" height="5.3" fill="rgb(246,243,246)"/><rect x="115" y="65.00" width="13.4" height="5.3" fill="rgb(246,243,246)"/><rect x="128" y="65.00" width="13.4" height="5.3" fill="rgb(149,158,235)"/><rect x="141" y="65.00" width="13.4" height="5.3" fill="rgb(168,176,240)"/><rect x="154" y="65.00" width="13.4" height="5.3" fill="rgb(236,132,132)"/><rect x="167" y="65.00" width="13.4" height="5.3" fill="rgb(246,230,232)"/><rect x="180" y="65.00" width="13.4" height="5.3" fill="rgb(246,243,246)"/><rect x="193" y="65.00" width="13.4" height="5.3" fill="rgb(246,243,246)"/><rect x="206" y="65.00" width="13" height="5.3" fill="rgb(246,243,246)"/><rect x="115" y="69.88" width="13.4" height="5.3" fill="rgb(246,243,246)"/><rect x="128" y="69.88" width="13.4" height="5.3" fill="rgb(187,193,243)"/><rect x="141" y="69.88" width="13.4" height="5.3" fill="rgb(187,193,243)"/><rect x="154" y="69.88" width="13.4" height="5.3" fill="rgb(236,132,132)"/><rect x="167" y="69.88" width="13.4" height="5.3" fill="rgb(246,198,198)"/><rect x="180" y="69.88" width="13.4" height="5.3" fill="rgb(246,243,246)"/><rect x="193" y="69.88" width="13.4" height="5.3" fill="rgb(246,198,198)"/><rect x="206" y="69.88" width="13" height="5.3" fill="rgb(168,176,240)"/><rect x="115" y="74.76" width="13.4" height="5.3" fill="rgb(168,176,240)"/><rect x="128" y="74.76" width="13.4" height="5.3" fill="rgb(246,243,246)"/><rect x="141" y="74.76" width="13.4" height="5.3" fill="rgb(226,226,246)"/><rect x="154" y="74.76" width="13.4" height="5.3" fill="rgb(212,52,52)"/><rect x="167" y="74.76" width="13.4" height="5.3" fill="rgb(246,243,246)"/><rect x="180" y="74.76" width="13.4" height="5.3" fill="rgb(246,243,246)"/><rect x="193" y="74.76" width="13.4" height="5.3" fill="rgb(246,243,246)"/><rect x="206" y="74.76" width="13" height="5.3" fill="rgb(246,243,246)"/><rect x="115" y="79.64" width="13.4" height="5.3" fill="rgb(168,176,240)"/><rect x="128" y="79.64" width="13.4" height="5.3" fill="rgb(246,243,246)"/><rect x="141" y="79.64" width="13.4" height="5.3" fill="rgb(206,210,246)"/><rect x="154" y="79.64" width="13.4" height="5.3" fill="rgb(212,52,52)"/><rect x="167" y="79.64" width="13.4" height="5.3" fill="rgb(246,243,246)"/><rect x="180" y="79.64" width="13.4" height="5.3" fill="rgb(246,243,246)"/><rect x="193" y="79.64" width="13.4" height="5.3" fill="rgb(246,198,198)"/><rect x="206" y="79.64" width="13" height="5.3" fill="rgb(206,210,246)"/><rect x="115" y="84.52" width="13.4" height="5.3" fill="rgb(168,176,240)"/><rect x="128" y="84.52" width="13.4" height="5.3" fill="rgb(130,140,230)"/><rect x="141" y="84.52" width="13.4" height="5.3" fill="rgb(206,210,246)"/><rect x="154" y="84.52" width="13.4" height="5.3" fill="rgb(246,198,198)"/><rect x="167" y="84.52" width="13.4" height="5.3" fill="rgb(246,243,246)"/><rect x="180" y="84.52" width="13.4" height="5.3" fill="rgb(246,243,246)"/><rect x="193" y="84.52" width="13.4" height="5.3" fill="rgb(241,165,165)"/><rect x="206" y="84.52" width="13" height="5.3" fill="rgb(246,243,246)"/><rect x="115" y="89.40" width="13.4" height="5.3" fill="rgb(168,176,240)"/><rect x="128" y="89.40" width="13.4" height="5.3" fill="rgb(206,210,246)"/><rect x="141" y="89.40" width="13.4" height="5.3" fill="rgb(206,210,246)"/><rect x="154" y="89.40" width="13.4" height="5.3" fill="rgb(236,132,132)"/><rect x="167" y="89.40" width="13.4" height="5.3" fill="rgb(246,243,246)"/><rect x="180" y="89.40" width="13.4" height="5.3" fill="rgb(246,225,227)"/><rect x="193" y="89.40" width="13.4" height="5.3" fill="rgb(241,165,165)"/><rect x="206" y="89.40" width="13" height="5.3" fill="rgb(246,243,246)"/><rect x="115" y="94.28" width="13.4" height="5.3" fill="rgb(168,176,240)"/><rect x="128" y="94.28" width="13.4" height="5.3" fill="rgb(246,243,246)"/><rect x="141" y="94.28" width="13.4" height="5.3" fill="rgb(206,210,246)"/><rect x="154" y="94.28" width="13.4" height="5.3" fill="rgb(241,165,165)"/><rect x="167" y="94.28" width="13.4" height="5.3" fill="rgb(246,243,246)"/><rect x="180" y="94.28" width="13.4" height="5.3" fill="rgb(246,225,227)"/><rect x="193" y="94.28" width="13.4" height="5.3" fill="rgb(212,52,52)"/><rect x="206" y="94.28" width="13" height="5.3" fill="rgb(246,243,246)"/><rect x="115" y="99.16" width="13.4" height="5.3" fill="rgb(168,176,240)"/><rect x="128" y="99.16" width="13.4" height="5.3" fill="rgb(246,243,246)"/><rect x="141" y="99.16" width="13.4" height="5.3" fill="rgb(206,210,246)"/><rect x="154" y="99.16" width="13.4" height="5.3" fill="rgb(241,165,165)"/><rect x="167" y="99.16" width="13.4" height="5.3" fill="rgb(246,243,246)"/><rect x="180" y="99.16" width="13.4" height="5.3" fill="rgb(246,225,227)"/><rect x="193" y="99.16" width="13.4" height="5.3" fill="rgb(224,92,92)"/><rect x="206" y="99.16" width="13" height="5.3" fill="rgb(246,243,246)"/><rect x="115" y="104.04" width="13.4" height="5.3" fill="rgb(130,140,230)"/><rect x="128" y="104.04" width="13.4" height="5.3" fill="rgb(246,243,246)"/><rect x="141" y="104.04" width="13.4" height="5.3" fill="rgb(206,210,246)"/><rect x="154" y="104.04" width="13.4" height="5.3" fill="rgb(241,165,165)"/><rect x="167" y="104.04" width="13.4" height="5.3" fill="rgb(246,243,246)"/><rect x="180" y="104.04" width="13.4" height="5.3" fill="rgb(246,225,227)"/><rect x="193" y="104.04" width="13.4" height="5.3" fill="rgb(236,132,132)"/><rect x="206" y="104.04" width="13" height="5.3" fill="rgb(246,243,246)"/><rect x="115" y="108.92" width="13.4" height="5.3" fill="rgb(168,176,240)"/><rect x="128" y="108.92" width="13.4" height="5.3" fill="rgb(246,243,246)"/><rect x="141" y="108.92" width="13.4" height="5.3" fill="rgb(206,210,246)"/><rect x="154" y="108.92" width="13.4" height="5.3" fill="rgb(241,165,165)"/><rect x="167" y="108.92" width="13.4" height="5.3" fill="rgb(246,243,246)"/><rect x="180" y="108.92" width="13.4" height="5.3" fill="rgb(246,225,227)"/><rect x="193" y="108.92" width="13.4" height="5.3" fill="rgb(236,132,132)"/><rect x="206" y="108.92" width="13" height="5.3" fill="rgb(246,243,246)"/><rect x="115" y="113.80" width="13.4" height="5.3" fill="rgb(206,210,246)"/><rect x="128" y="113.80" width="13.4" height="5.3" fill="rgb(246,243,246)"/><rect x="141" y="113.80" width="13.4" height="5.3" fill="rgb(206,210,246)"/><rect x="154" y="113.80" width="13.4" height="5.3" fill="rgb(236,132,132)"/><rect x="167" y="113.80" width="13.4" height="5.3" fill="rgb(246,243,246)"/><rect x="180" y="113.80" width="13.4" height="5.3" fill="rgb(206,210,246)"/><rect x="193" y="113.80" width="13.4" height="5.3" fill="rgb(236,132,132)"/><rect x="206" y="113.80" width="13" height="5.3" fill="rgb(246,243,246)"/><rect x="115" y="118.68" width="13.4" height="5.3" fill="rgb(206,210,246)"/><rect x="128" y="118.68" width="13.4" height="5.3" fill="rgb(168,176,240)"/><rect x="141" y="118.68" width="13.4" height="5.3" fill="rgb(206,210,246)"/><rect x="154" y="118.68" width="13.4" height="5.3" fill="rgb(236,132,132)"/><rect x="167" y="118.68" width="13.4" height="5.3" fill="rgb(246,243,246)"/><rect x="180" y="118.68" width="13.4" height="5.3" fill="rgb(246,243,246)"/><rect x="193" y="118.68" width="13.4" height="5.3" fill="rgb(246,198,198)"/><rect x="206" y="118.68" width="13" height="5.3" fill="rgb(246,243,246)"/><rect x="115" y="123.56" width="13.4" height="5.3" fill="rgb(206,210,246)"/><rect x="128" y="123.56" width="13.4" height="5.3" fill="rgb(246,243,246)"/><rect x="141" y="123.56" width="13.4" height="5.3" fill="rgb(187,193,243)"/><rect x="154" y="123.56" width="13.4" height="5.3" fill="rgb(226,226,246)"/><rect x="167" y="123.56" width="13.4" height="5.3" fill="rgb(234,233,246)"/><rect x="180" y="123.56" width="13.4" height="5.3" fill="rgb(246,243,246)"/><rect x="193" y="123.56" width="13.4" height="5.3" fill="rgb(246,198,198)"/><rect x="206" y="123.56" width="13" height="5.3" fill="rgb(212,52,52)"/><rect x="115" y="128.44" width="13.4" height="5.3" fill="rgb(168,176,240)"/><rect x="128" y="128.44" width="13.4" height="5.3" fill="rgb(246,243,246)"/><rect x="141" y="128.44" width="13.4" height="5.3" fill="rgb(206,210,246)"/><rect x="154" y="128.44" width="13.4" height="5.3" fill="rgb(246,243,246)"/><rect x="167" y="128.44" width="13.4" height="5.3" fill="rgb(246,243,246)"/><rect x="180" y="128.44" width="13.4" height="5.3" fill="rgb(246,243,246)"/><rect x="193" y="128.44" width="13.4" height="5.3" fill="rgb(236,132,132)"/><rect x="206" y="128.44" width="13" height="5.3" fill="rgb(241,165,165)"/><rect x="115" y="133.32" width="13.4" height="5.3" fill="rgb(206,210,246)"/><rect x="128" y="133.32" width="13.4" height="5.3" fill="rgb(246,243,246)"/><rect x="141" y="133.32" width="13.4" height="5.3" fill="rgb(206,210,246)"/><rect x="154" y="133.32" width="13.4" height="5.3" fill="rgb(246,243,246)"/><rect x="167" y="133.32" width="13.4" height="5.3" fill="rgb(246,243,246)"/><rect x="180" y="133.32" width="13.4" height="5.3" fill="rgb(246,243,246)"/><rect x="193" y="133.32" width="13.4" height="5.3" fill="rgb(212,52,52)"/><rect x="206" y="133.32" width="13" height="5.3" fill="rgb(241,165,165)"/><rect x="115" y="138.20" width="13.4" height="5.3" fill="rgb(206,210,246)"/><rect x="128" y="138.20" width="13.4" height="5.3" fill="rgb(246,243,246)"/><rect x="141" y="138.20" width="13.4" height="5.3" fill="rgb(206,210,246)"/><rect x="154" y="138.20" width="13.4" height="5.3" fill="rgb(246,243,246)"/><rect x="167" y="138.20" width="13.4" height="5.3" fill="rgb(246,243,246)"/><rect x="180" y="138.20" width="13.4" height="5.3" fill="rgb(206,210,246)"/><rect x="193" y="138.20" width="13.4" height="5.3" fill="rgb(224,92,92)"/><rect x="206" y="138.20" width="13" height="5.3" fill="rgb(236,132,132)"/><rect x="115" y="143.08" width="13.4" height="5.3" fill="rgb(206,210,246)"/><rect x="128" y="143.08" width="13.4" height="5.3" fill="rgb(168,176,240)"/><rect x="141" y="143.08" width="13.4" height="5.3" fill="rgb(206,210,246)"/><rect x="154" y="143.08" width="13.4" height="5.3" fill="rgb(246,243,246)"/><rect x="167" y="143.08" width="13.4" height="5.3" fill="rgb(246,243,246)"/><rect x="180" y="143.08" width="13.4" height="5.3" fill="rgb(246,243,246)"/><rect x="193" y="143.08" width="13.4" height="5.3" fill="rgb(241,165,165)"/><rect x="206" y="143.08" width="13" height="5.3" fill="rgb(241,165,165)"/><rect x="115" y="147.96" width="13.4" height="5.3" fill="rgb(206,210,246)"/><rect x="128" y="147.96" width="13.4" height="5.3" fill="rgb(246,243,246)"/><rect x="141" y="147.96" width="13.4" height="5.3" fill="rgb(246,243,246)"/><rect x="154" y="147.96" width="13.4" height="5.3" fill="rgb(246,243,246)"/><rect x="167" y="147.96" width="13.4" height="5.3" fill="rgb(246,243,246)"/><rect x="180" y="147.96" width="13.4" height="5.3" fill="rgb(246,243,246)"/><rect x="193" y="147.96" width="13.4" height="5.3" fill="rgb(236,132,132)"/><rect x="206" y="147.96" width="13" height="5.3" fill="rgb(224,92,92)"/><rect x="115" y="152.84" width="13.4" height="5.3" fill="rgb(206,210,246)"/><rect x="128" y="152.84" width="13.4" height="5.3" fill="rgb(246,243,246)"/><rect x="141" y="152.84" width="13.4" height="5.3" fill="rgb(246,243,246)"/><rect x="154" y="152.84" width="13.4" height="5.3" fill="rgb(246,243,246)"/><rect x="167" y="152.84" width="13.4" height="5.3" fill="rgb(246,243,246)"/><rect x="180" y="152.84" width="13.4" height="5.3" fill="rgb(246,243,246)"/><rect x="193" y="152.84" width="13.4" height="5.3" fill="rgb(236,132,132)"/><rect x="206" y="152.84" width="13" height="5.3" fill="rgb(236,132,132)"/><rect x="115" y="157.72" width="13.4" height="5.3" fill="rgb(206,210,246)"/><rect x="128" y="157.72" width="13.4" height="5.3" fill="rgb(246,243,246)"/><rect x="141" y="157.72" width="13.4" height="5.3" fill="rgb(246,243,246)"/><rect x="154" y="157.72" width="13.4" height="5.3" fill="rgb(246,243,246)"/><rect x="167" y="157.72" width="13.4" height="5.3" fill="rgb(246,243,246)"/><rect x="180" y="157.72" width="13.4" height="5.3" fill="rgb(246,243,246)"/><rect x="193" y="157.72" width="13.4" height="5.3" fill="rgb(224,92,92)"/><rect x="206" y="157.72" width="13" height="5.3" fill="rgb(236,132,132)"/><rect x="115" y="162.60" width="13.4" height="5.3" fill="rgb(206,210,246)"/><rect x="128" y="162.60" width="13.4" height="5.3" fill="rgb(246,243,246)"/><rect x="141" y="162.60" width="13.4" height="5.3" fill="rgb(246,243,246)"/><rect x="154" y="162.60" width="13.4" height="5.3" fill="rgb(246,243,246)"/><rect x="167" y="162.60" width="13.4" height="5.3" fill="rgb(246,243,246)"/><rect x="180" y="162.60" width="13.4" height="5.3" fill="rgb(246,243,246)"/><rect x="193" y="162.60" width="13.4" height="5.3" fill="rgb(212,52,52)"/><rect x="206" y="162.60" width="13" height="5.3" fill="rgb(224,92,92)"/><rect x="115" y="167.48" width="13.4" height="5.3" fill="rgb(168,176,240)"/><rect x="128" y="167.48" width="13.4" height="5.3" fill="rgb(206,210,246)"/><rect x="141" y="167.48" width="13.4" height="5.3" fill="rgb(206,210,246)"/><rect x="154" y="167.48" width="13.4" height="5.3" fill="rgb(246,243,246)"/><rect x="167" y="167.48" width="13.4" height="5.3" fill="rgb(246,243,246)"/><rect x="180" y="167.48" width="13.4" height="5.3" fill="rgb(246,243,246)"/><rect x="193" y="167.48" width="13.4" height="5.3" fill="rgb(224,92,92)"/><rect x="206" y="167.48" width="13" height="5.3" fill="rgb(246,198,198)"/><rect x="115" y="172.36" width="13.4" height="5.3" fill="rgb(206,210,246)"/><rect x="128" y="172.36" width="13.4" height="5.3" fill="rgb(246,243,246)"/><rect x="141" y="172.36" width="13.4" height="5.3" fill="rgb(246,243,246)"/><rect x="154" y="172.36" width="13.4" height="5.3" fill="rgb(246,243,246)"/><rect x="167" y="172.36" width="13.4" height="5.3" fill="rgb(246,243,246)"/><rect x="180" y="172.36" width="13.4" height="5.3" fill="rgb(246,243,246)"/><rect x="193" y="172.36" width="13.4" height="5.3" fill="rgb(212,52,52)"/><rect x="206" y="172.36" width="13" height="5.3" fill="rgb(246,198,198)"/><rect x="115" y="177.24" width="13.4" height="5.3" fill="rgb(246,198,198)"/><rect x="128" y="177.24" width="13.4" height="5.3" fill="rgb(130,140,230)"/><rect x="141" y="177.24" width="13.4" height="5.3" fill="rgb(168,176,240)"/><rect x="154" y="177.24" width="13.4" height="5.3" fill="rgb(246,243,246)"/><rect x="167" y="177.24" width="13.4" height="5.3" fill="rgb(246,243,246)"/><rect x="180" y="177.24" width="13.4" height="5.3" fill="rgb(246,243,246)"/><rect x="193" y="177.24" width="13.4" height="5.3" fill="rgb(212,52,52)"/><rect x="206" y="177.24" width="13" height="5.3" fill="rgb(246,243,246)"/><rect x="115" y="182.12" width="13.4" height="5.3" fill="rgb(206,210,246)"/><rect x="128" y="182.12" width="13.4" height="5.3" fill="rgb(246,243,246)"/><rect x="141" y="182.12" width="13.4" height="5.3" fill="rgb(246,243,246)"/><rect x="154" y="182.12" width="13.4" height="5.3" fill="rgb(246,243,246)"/><rect x="167" y="182.12" width="13.4" height="5.3" fill="rgb(246,243,246)"/><rect x="180" y="182.12" width="13.4" height="5.3" fill="rgb(236,132,132)"/><rect x="193" y="182.12" width="13.4" height="5.3" fill="rgb(236,132,132)"/><rect x="206" y="182.12" width="13" height="5.3" fill="rgb(168,176,240)"/><rect x="115" y="187.00" width="13.4" height="5.3" fill="rgb(168,176,240)"/><rect x="128" y="187.00" width="13.4" height="5.3" fill="rgb(246,243,246)"/><rect x="141" y="187.00" width="13.4" height="5.3" fill="rgb(206,210,246)"/><rect x="154" y="187.00" width="13.4" height="5.3" fill="rgb(246,243,246)"/><rect x="167" y="187.00" width="13.4" height="5.3" fill="rgb(246,243,246)"/><rect x="180" y="187.00" width="13.4" height="5.3" fill="rgb(241,165,165)"/><rect x="193" y="187.00" width="13.4" height="5.3" fill="rgb(224,92,92)"/><rect x="206" y="187.00" width="13" height="5.3" fill="rgb(206,210,246)"/><rect x="115" y="191.88" width="13.4" height="5.3" fill="rgb(206,210,246)"/><rect x="128" y="191.88" width="13.4" height="5.3" fill="rgb(246,243,246)"/><rect x="141" y="191.88" width="13.4" height="5.3" fill="rgb(246,243,246)"/><rect x="154" y="191.88" width="13.4" height="5.3" fill="rgb(246,243,246)"/><rect x="167" y="191.88" width="13.4" height="5.3" fill="rgb(246,243,246)"/><rect x="180" y="191.88" width="13.4" height="5.3" fill="rgb(246,243,246)"/><rect x="193" y="191.88" width="13.4" height="5.3" fill="rgb(212,52,52)"/><rect x="206" y="191.88" width="13" height="5.3" fill="rgb(246,243,246)"/><rect x="115" y="196.76" width="13.4" height="5.3" fill="rgb(206,210,246)"/><rect x="128" y="196.76" width="13.4" height="5.3" fill="rgb(246,243,246)"/><rect x="141" y="196.76" width="13.4" height="5.3" fill="rgb(246,243,246)"/><rect x="154" y="196.76" width="13.4" height="5.3" fill="rgb(246,243,246)"/><rect x="167" y="196.76" width="13.4" height="5.3" fill="rgb(246,243,246)"/><rect x="180" y="196.76" width="13.4" height="5.3" fill="rgb(246,243,246)"/><rect x="193" y="196.76" width="13.4" height="5.3" fill="rgb(212,52,52)"/><rect x="206" y="196.76" width="13" height="5.3" fill="rgb(246,243,246)"/><rect x="115" y="201.64" width="13.4" height="5.3" fill="rgb(206,210,246)"/><rect x="128" y="201.64" width="13.4" height="5.3" fill="rgb(246,243,246)"/><rect x="141" y="201.64" width="13.4" height="5.3" fill="rgb(246,243,246)"/><rect x="154" y="201.64" width="13.4" height="5.3" fill="rgb(246,243,246)"/><rect x="167" y="201.64" width="13.4" height="5.3" fill="rgb(246,243,246)"/><rect x="180" y="201.64" width="13.4" height="5.3" fill="rgb(246,243,246)"/><rect x="193" y="201.64" width="13.4" height="5.3" fill="rgb(212,52,52)"/><rect x="206" y="201.64" width="13" height="5.3" fill="rgb(246,243,246)"/><rect x="115" y="206.52" width="13.4" height="5.3" fill="rgb(206,210,246)"/><rect x="128" y="206.52" width="13.4" height="5.3" fill="rgb(246,243,246)"/><rect x="141" y="206.52" width="13.4" height="5.3" fill="rgb(246,243,246)"/><rect x="154" y="206.52" width="13.4" height="5.3" fill="rgb(246,243,246)"/><rect x="167" y="206.52" width="13.4" height="5.3" fill="rgb(246,243,246)"/><rect x="180" y="206.52" width="13.4" height="5.3" fill="rgb(246,243,246)"/><rect x="193" y="206.52" width="13.4" height="5.3" fill="rgb(212,52,52)"/><rect x="206" y="206.52" width="13" height="5.3" fill="rgb(246,243,246)"/><rect x="115" y="211.40" width="13.4" height="5.3" fill="rgb(206,210,246)"/><rect x="128" y="211.40" width="13.4" height="5.3" fill="rgb(246,243,246)"/><rect x="141" y="211.40" width="13.4" height="5.3" fill="rgb(246,243,246)"/><rect x="154" y="211.40" width="13.4" height="5.3" fill="rgb(246,243,246)"/><rect x="167" y="211.40" width="13.4" height="5.3" fill="rgb(246,243,246)"/><rect x="180" y="211.40" width="13.4" height="5.3" fill="rgb(212,52,52)"/><rect x="193" y="211.40" width="13.4" height="5.3" fill="rgb(246,243,246)"/><rect x="206" y="211.40" width="13" height="5.3" fill="rgb(206,210,246)"/><rect x="115" y="216.28" width="13.4" height="5.3" fill="rgb(187,193,243)"/><rect x="128" y="216.28" width="13.4" height="5.3" fill="rgb(246,243,246)"/><rect x="141" y="216.28" width="13.4" height="5.3" fill="rgb(206,210,246)"/><rect x="154" y="216.28" width="13.4" height="5.3" fill="rgb(246,243,246)"/><rect x="167" y="216.28" width="13.4" height="5.3" fill="rgb(246,243,246)"/><rect x="180" y="216.28" width="13.4" height="5.3" fill="rgb(212,52,52)"/><rect x="193" y="216.28" width="13.4" height="5.3" fill="rgb(246,243,246)"/><rect x="206" y="216.28" width="13" height="5.3" fill="rgb(206,210,246)"/><rect x="115" y="221.16" width="13.4" height="5.3" fill="rgb(187,193,243)"/><rect x="128" y="221.16" width="13.4" height="5.3" fill="rgb(246,243,246)"/><rect x="141" y="221.16" width="13.4" height="5.3" fill="rgb(206,210,246)"/><rect x="154" y="221.16" width="13.4" height="5.3" fill="rgb(246,243,246)"/><rect x="167" y="221.16" width="13.4" height="5.3" fill="rgb(246,243,246)"/><rect x="180" y="221.16" width="13.4" height="5.3" fill="rgb(212,52,52)"/><rect x="193" y="221.16" width="13.4" height="5.3" fill="rgb(246,243,246)"/><rect x="206" y="221.16" width="13" height="5.3" fill="rgb(206,210,246)"/><rect x="115" y="226.04" width="13.4" height="5.3" fill="rgb(168,176,240)"/><rect x="128" y="226.04" width="13.4" height="5.3" fill="rgb(206,210,246)"/><rect x="141" y="226.04" width="13.4" height="5.3" fill="rgb(206,210,246)"/><rect x="154" y="226.04" width="13.4" height="5.3" fill="rgb(236,132,132)"/><rect x="167" y="226.04" width="13.4" height="5.3" fill="rgb(246,207,208)"/><rect x="180" y="226.04" width="13.4" height="5.3" fill="rgb(236,132,132)"/><rect x="193" y="226.04" width="13.4" height="5.3" fill="rgb(206,210,246)"/><rect x="206" y="226.04" width="13" height="5.3" fill="rgb(168,176,240)"/><rect x="115" y="230.92" width="13.4" height="5.3" fill="rgb(206,210,246)"/><rect x="128" y="230.92" width="13.4" height="5.3" fill="rgb(206,210,246)"/><rect x="141" y="230.92" width="13.4" height="5.3" fill="rgb(206,210,246)"/><rect x="154" y="230.92" width="13.4" height="5.3" fill="rgb(246,243,246)"/><rect x="167" y="230.92" width="13.4" height="5.3" fill="rgb(246,243,246)"/><rect x="180" y="230.92" width="13.4" height="5.3" fill="rgb(212,52,52)"/><rect x="193" y="230.92" width="13.4" height="5.3" fill="rgb(206,210,246)"/><rect x="206" y="230.92" width="13" height="5.3" fill="rgb(206,210,246)"/><rect x="115" y="235.80" width="13.4" height="5.3" fill="rgb(206,210,246)"/><rect x="128" y="235.80" width="13.4" height="5.3" fill="rgb(206,210,246)"/><rect x="141" y="235.80" width="13.4" height="5.3" fill="rgb(206,210,246)"/><rect x="154" y="235.80" width="13.4" height="5.3" fill="rgb(246,230,232)"/><rect x="167" y="235.80" width="13.4" height="5.3" fill="rgb(246,243,246)"/><rect x="180" y="235.80" width="13.4" height="5.3" fill="rgb(212,52,52)"/><rect x="193" y="235.80" width="13.4" height="5.3" fill="rgb(206,210,246)"/><rect x="206" y="235.80" width="13" height="5.3" fill="rgb(168,176,240)"/><rect x="115" y="240.68" width="13.4" height="5.3" fill="rgb(187,193,243)"/><rect x="128" y="240.68" width="13.4" height="5.3" fill="rgb(246,243,246)"/><rect x="141" y="240.68" width="13.4" height="5.3" fill="rgb(206,210,246)"/><rect x="154" y="240.68" width="13.4" height="5.3" fill="rgb(246,230,232)"/><rect x="167" y="240.68" width="13.4" height="5.3" fill="rgb(246,243,246)"/><rect x="180" y="240.68" width="13.4" height="5.3" fill="rgb(212,52,52)"/><rect x="193" y="240.68" width="13.4" height="5.3" fill="rgb(246,243,246)"/><rect x="206" y="240.68" width="13" height="5.3" fill="rgb(246,243,246)"/><rect x="115" y="245.56" width="13.4" height="5.3" fill="rgb(206,210,246)"/><rect x="128" y="245.56" width="13.4" height="5.3" fill="rgb(246,243,246)"/><rect x="141" y="245.56" width="13.4" height="5.3" fill="rgb(206,210,246)"/><rect x="154" y="245.56" width="13.4" height="5.3" fill="rgb(246,230,232)"/><rect x="167" y="245.56" width="13.4" height="5.3" fill="rgb(246,220,222)"/><rect x="180" y="245.56" width="13.4" height="5.3" fill="rgb(212,52,52)"/><rect x="193" y="245.56" width="13.4" height="5.3" fill="rgb(246,243,246)"/><rect x="206" y="245.56" width="13" height="5.3" fill="rgb(206,210,246)"/><rect x="115" y="250.44" width="13.4" height="5.3" fill="rgb(168,176,240)"/><rect x="128" y="250.44" width="13.4" height="5.3" fill="rgb(246,243,246)"/><rect x="141" y="250.44" width="13.4" height="5.3" fill="rgb(226,226,246)"/><rect x="154" y="250.44" width="13.4" height="5.3" fill="rgb(246,198,198)"/><rect x="167" y="250.44" width="13.4" height="5.3" fill="rgb(236,132,132)"/><rect x="180" y="250.44" width="13.4" height="5.3" fill="rgb(168,176,240)"/><rect x="193" y="250.44" width="13.4" height="5.3" fill="rgb(246,243,246)"/><rect x="206" y="250.44" width="13" height="5.3" fill="rgb(246,243,246)"/><rect x="115" y="255.32" width="13.4" height="5.3" fill="rgb(168,176,240)"/><rect x="128" y="255.32" width="13.4" height="5.3" fill="rgb(246,243,246)"/><rect x="141" y="255.32" width="13.4" height="5.3" fill="rgb(246,243,246)"/><rect x="154" y="255.32" width="13.4" height="5.3" fill="rgb(236,132,132)"/><rect x="167" y="255.32" width="13.4" height="5.3" fill="rgb(236,132,132)"/><rect x="180" y="255.32" width="13.4" height="5.3" fill="rgb(206,210,246)"/><rect x="193" y="255.32" width="13.4" height="5.3" fill="rgb(246,243,246)"/><rect x="206" y="255.32" width="13" height="5.3" fill="rgb(246,243,246)"/><rect x="115" y="260.20" width="13.4" height="5.3" fill="rgb(187,193,243)"/><rect x="128" y="260.20" width="13.4" height="5.3" fill="rgb(246,243,246)"/><rect x="141" y="260.20" width="13.4" height="5.3" fill="rgb(246,243,246)"/><rect x="154" y="260.20" width="13.4" height="5.3" fill="rgb(224,92,92)"/><rect x="167" y="260.20" width="13.4" height="5.3" fill="rgb(236,132,132)"/><rect x="180" y="260.20" width="13.4" height="5.3" fill="rgb(206,210,246)"/><rect x="193" y="260.20" width="13.4" height="5.3" fill="rgb(246,243,246)"/><rect x="206" y="260.20" width="13" height="5.3" fill="rgb(246,243,246)"/><rect x="115" y="265.08" width="13.4" height="5.3" fill="rgb(246,243,246)"/><rect x="128" y="265.08" width="13.4" height="5.3" fill="rgb(246,243,246)"/><rect x="141" y="265.08" width="13.4" height="5.3" fill="rgb(246,243,246)"/><rect x="154" y="265.08" width="13.4" height="5.3" fill="rgb(236,132,132)"/><rect x="167" y="265.08" width="13.4" height="5.3" fill="rgb(236,132,132)"/><rect x="180" y="265.08" width="13.4" height="5.3" fill="rgb(246,243,246)"/><rect x="193" y="265.08" width="13.4" height="5.3" fill="rgb(206,210,246)"/><rect x="206" y="265.08" width="13" height="5.3" fill="rgb(206,210,246)"/><rect x="115" y="269.96" width="13.4" height="5.3" fill="rgb(246,243,246)"/><rect x="128" y="269.96" width="13.4" height="5.3" fill="rgb(218,220,246)"/><rect x="141" y="269.96" width="13.4" height="5.3" fill="rgb(218,220,246)"/><rect x="154" y="269.96" width="13.4" height="5.3" fill="rgb(236,132,132)"/><rect x="167" y="269.96" width="13.4" height="5.3" fill="rgb(236,132,132)"/><rect x="180" y="269.96" width="13.4" height="5.3" fill="rgb(246,243,246)"/><rect x="193" y="269.96" width="13.4" height="5.3" fill="rgb(206,210,246)"/><rect x="206" y="269.96" width="13" height="5.3" fill="rgb(206,210,246)"/><rect x="115" y="274.84" width="13.4" height="5.3" fill="rgb(246,243,246)"/><rect x="128" y="274.84" width="13.4" height="5.3" fill="rgb(218,220,246)"/><rect x="141" y="274.84" width="13.4" height="5.3" fill="rgb(218,220,246)"/><rect x="154" y="274.84" width="13.4" height="5.3" fill="rgb(236,132,132)"/><rect x="167" y="274.84" width="13.4" height="5.3" fill="rgb(236,132,132)"/><rect x="180" y="274.84" width="13.4" height="5.3" fill="rgb(246,243,246)"/><rect x="193" y="274.84" width="13.4" height="5.3" fill="rgb(206,210,246)"/><rect x="206" y="274.84" width="13" height="5.3" fill="rgb(206,210,246)"/><rect x="115" y="279.72" width="13.4" height="5.3" fill="rgb(246,243,246)"/><rect x="128" y="279.72" width="13.4" height="5.3" fill="rgb(218,220,246)"/><rect x="141" y="279.72" width="13.4" height="5.3" fill="rgb(218,220,246)"/><rect x="154" y="279.72" width="13.4" height="5.3" fill="rgb(236,132,132)"/><rect x="167" y="279.72" width="13.4" height="5.3" fill="rgb(236,132,132)"/><rect x="180" y="279.72" width="13.4" height="5.3" fill="rgb(246,243,246)"/><rect x="193" y="279.72" width="13.4" height="5.3" fill="rgb(206,210,246)"/><rect x="206" y="279.72" width="13" height="5.3" fill="rgb(206,210,246)"/><rect x="115" y="284.60" width="13.4" height="5.3" fill="rgb(246,243,246)"/><rect x="128" y="284.60" width="13.4" height="5.3" fill="rgb(218,220,246)"/><rect x="141" y="284.60" width="13.4" height="5.3" fill="rgb(218,220,246)"/><rect x="154" y="284.60" width="13.4" height="5.3" fill="rgb(236,132,132)"/><rect x="167" y="284.60" width="13.4" height="5.3" fill="rgb(236,132,132)"/><rect x="180" y="284.60" width="13.4" height="5.3" fill="rgb(246,243,246)"/><rect x="193" y="284.60" width="13.4" height="5.3" fill="rgb(206,210,246)"/><rect x="206" y="284.60" width="13" height="5.3" fill="rgb(168,176,240)"/><rect x="115" y="289.48" width="13.4" height="5.3" fill="rgb(246,243,246)"/><rect x="128" y="289.48" width="13.4" height="5.3" fill="rgb(218,220,246)"/><rect x="141" y="289.48" width="13.4" height="5.3" fill="rgb(218,220,246)"/><rect x="154" y="289.48" width="13.4" height="5.3" fill="rgb(236,132,132)"/><rect x="167" y="289.48" width="13.4" height="5.3" fill="rgb(236,132,132)"/><rect x="180" y="289.48" width="13.4" height="5.3" fill="rgb(246,243,246)"/><rect x="193" y="289.48" width="13.4" height="5.3" fill="rgb(206,210,246)"/><rect x="206" y="289.48" width="13" height="5.3" fill="rgb(206,210,246)"/><rect x="115" y="294.36" width="13.4" height="5.3" fill="rgb(246,243,246)"/><rect x="128" y="294.36" width="13.4" height="5.3" fill="rgb(218,220,246)"/><rect x="141" y="294.36" width="13.4" height="5.3" fill="rgb(218,220,246)"/><rect x="154" y="294.36" width="13.4" height="5.3" fill="rgb(236,132,132)"/><rect x="167" y="294.36" width="13.4" height="5.3" fill="rgb(236,132,132)"/><rect x="180" y="294.36" width="13.4" height="5.3" fill="rgb(246,243,246)"/><rect x="193" y="294.36" width="13.4" height="5.3" fill="rgb(206,210,246)"/><rect x="206" y="294.36" width="13" height="5.3" fill="rgb(206,210,246)"/><rect x="115" y="299.24" width="13.4" height="5.3" fill="rgb(246,243,246)"/><rect x="128" y="299.24" width="13.4" height="5.3" fill="rgb(218,220,246)"/><rect x="141" y="299.24" width="13.4" height="5.3" fill="rgb(218,220,246)"/><rect x="154" y="299.24" width="13.4" height="5.3" fill="rgb(236,132,132)"/><rect x="167" y="299.24" width="13.4" height="5.3" fill="rgb(236,132,132)"/><rect x="180" y="299.24" width="13.4" height="5.3" fill="rgb(246,243,246)"/><rect x="193" y="299.24" width="13.4" height="5.3" fill="rgb(206,210,246)"/><rect x="206" y="299.24" width="13" height="5.3" fill="rgb(206,210,246)"/><rect x="115" y="304.12" width="13.4" height="5.3" fill="rgb(246,243,246)"/><rect x="128" y="304.12" width="13.4" height="5.3" fill="rgb(218,220,246)"/><rect x="141" y="304.12" width="13.4" height="5.3" fill="rgb(218,220,246)"/><rect x="154" y="304.12" width="13.4" height="5.3" fill="rgb(236,132,132)"/><rect x="167" y="304.12" width="13.4" height="5.3" fill="rgb(236,132,132)"/><rect x="180" y="304.12" width="13.4" height="5.3" fill="rgb(246,243,246)"/><rect x="193" y="304.12" width="13.4" height="5.3" fill="rgb(206,210,246)"/><rect x="206" y="304.12" width="13" height="5.3" fill="rgb(206,210,246)"/><rect x="115" y="309.00" width="13.4" height="5.3" fill="rgb(246,243,246)"/><rect x="128" y="309.00" width="13.4" height="5.3" fill="rgb(218,220,246)"/><rect x="141" y="309.00" width="13.4" height="5.3" fill="rgb(218,220,246)"/><rect x="154" y="309.00" width="13.4" height="5.3" fill="rgb(236,132,132)"/><rect x="167" y="309.00" width="13.4" height="5.3" fill="rgb(236,132,132)"/><rect x="180" y="309.00" width="13.4" height="5.3" fill="rgb(246,243,246)"/><rect x="193" y="309.00" width="13.4" height="5.3" fill="rgb(206,210,246)"/><rect x="206" y="309.00" width="13" height="5.3" fill="rgb(206,210,246)"/><rect x="115" y="313.88" width="13.4" height="5.3" fill="rgb(236,132,132)"/><rect x="128" y="313.88" width="13.4" height="5.3" fill="rgb(218,220,246)"/><rect x="141" y="313.88" width="13.4" height="5.3" fill="rgb(218,220,246)"/><rect x="154" y="313.88" width="13.4" height="5.3" fill="rgb(246,198,198)"/><rect x="167" y="313.88" width="13.4" height="5.3" fill="rgb(246,198,198)"/><rect x="180" y="313.88" width="13.4" height="5.3" fill="rgb(246,243,246)"/><rect x="193" y="313.88" width="13.4" height="5.3" fill="rgb(206,210,246)"/><rect x="206" y="313.88" width="13" height="5.3" fill="rgb(206,210,246)"/><rect x="115" y="318.76" width="13.4" height="4.88" fill="rgb(246,198,198)"/><rect x="128" y="318.76" width="13.4" height="4.88" fill="rgb(218,220,246)"/><rect x="141" y="318.76" width="13.4" height="4.88" fill="rgb(218,220,246)"/><rect x="154" y="318.76" width="13.4" height="4.88" fill="rgb(246,198,198)"/><rect x="167" y="318.76" width="13.4" height="4.88" fill="rgb(236,132,132)"/><rect x="180" y="318.76" width="13.4" height="4.88" fill="rgb(246,243,246)"/><rect x="193" y="318.76" width="13.4" height="4.88" fill="rgb(206,210,246)"/><rect x="206" y="318.76" width="13" height="4.88" fill="rgb(206,210,246)"/></svg>
<svg width="520" height="448"><g transform="matrix(1 0.0005 0 1 0 -0.08)"><g font-family="Liberation Sans" font-size="5.0" font-weight="bold" text-anchor="middle" fill="#26265a"><text x="121.50" y="44.90" fill="#1e2060" stroke="#1e2060" stroke-width="0.1">209</text><text x="134.50" y="44.90" fill="#2a2a3a" stroke="#2a2a3a" stroke-width="0.1">573</text><text x="147.50" y="44.90" fill="#1e2060" stroke="#1e2060" stroke-width="0.1">477</text><text x="160.50" y="44.90" fill="#4a1c24" stroke="#4a1c24" stroke-width="0.1">2032</text><text x="173.50" y="44.90" fill="#2a2a3a" stroke="#2a2a3a" stroke-width="0.1">1141</text><text x="186.50" y="44.90" fill="#2a2a3a" stroke="#2a2a3a" stroke-width="0.1">652</text><text x="199.50" y="44.90" fill="#2a2a3a" stroke="#2a2a3a" stroke-width="0.1">1339</text><text x="212.50" y="44.90" fill="#7c0c0c" stroke="#7c0c0c" stroke-width="0.1">2105</text><text x="121.50" y="49.78" fill="#1e2060" stroke="#1e2060" stroke-width="0.1">17</text><text x="134.50" y="49.78" fill="#2a2a3a" stroke="#2a2a3a" stroke-width="0.1">633</text><text x="147.50" y="49.78" fill="#1e2060" stroke="#1e2060" stroke-width="0.1">453</text><text x="160.50" y="49.78" fill="#4a1c24" stroke="#4a1c24" stroke-width="0.1">1736</text><text x="173.50" y="49.78" fill="#2a2a3a" stroke="#2a2a3a" stroke-width="0.1">1581</text><text x="186.50" y="49.78" fill="#2a2a3a" stroke="#2a2a3a" stroke-width="0.1">157</text><text x="199.50" y="49.78" fill="#1e2060" stroke="#1e2060" stroke-width="0.1">174</text><text x="212.50" y="49.78" fill="#7c0c0c" stroke="#7c0c0c" stroke-width="0.1">2635</text><text x="121.50" y="54.66" fill="#1e2060" stroke="#1e2060" stroke-width="0.1">93</text><text x="134.50" y="54.66" fill="#2a2a3a" stroke="#2a2a3a" stroke-width="0.1">118</text><text x="147.50" y="54.66" fill="#1e2060" stroke="#1e2060" stroke-width="0.1">92</text><text x="160.50" y="54.66" fill="#2a2a3a" stroke="#2a2a3a" stroke-width="0.1">273</text><text x="173.50" y="54.66" fill="#2a2a3a" stroke="#2a2a3a" stroke-width="0.1">231</text><text x="186.50" y="54.66" fill="#2a2a3a" stroke="#2a2a3a" stroke-width="0.1">160</text><text x="199.50" y="54.66" fill="#2a2a3a" stroke="#2a2a3a" stroke-width="0.1">107</text><text x="212.50" y="54.66" fill="#7c0c0c" stroke="#7c0c0c" stroke-width="0.1">2626</text><text x="121.50" y="59.54" fill="#1e2060" stroke="#1e2060" stroke-width="0.1">14</text><text x="134.50" y="59.54" fill="#2a2a3a" stroke="#2a2a3a" stroke-width="0.1">21</text><text x="147.50" y="59.54" fill="#1e2060" stroke="#1e2060" stroke-width="0.1">25</text><text x="160.50" y="59.54" fill="#2a2a3a" stroke="#2a2a3a" stroke-width="0.1">132</text><text x="173.50" y="59.54" fill="#4a1c24" stroke="#4a1c24" stroke-width="0.1">365</text><text x="186.50" y="59.54" fill="#4a1c24" stroke="#4a1c24" stroke-width="0.1">230</text><text x="199.50" y="59.54" fill="#2a2a3a" stroke="#2a2a3a" stroke-width="0.1">174</text><text x="212.50" y="59.54" fill="#2a2a3a" stroke="#2a2a3a" stroke-width="0.1">126</text><text x="121.50" y="64.42" fill="#1e2060" stroke="#1e2060" stroke-width="0.1">12</text><text x="134.50" y="64.42" fill="#2a2a3a" stroke="#2a2a3a" stroke-width="0.1">171</text><text x="147.50" y="64.42" fill="#1e2060" stroke="#1e2060" stroke-width="0.1">52</text><text x="160.50" y="64.42" fill="#2a2a3a" stroke="#2a2a3a" stroke-width="0.1">551</text><text x="173.50" y="64.42" fill="#7c0c0c" stroke="#7c0c0c" stroke-width="0.1">2526</text><text x="186.50" y="64.42" fill="#2a2a3a" stroke="#2a2a3a" stroke-width="0.1">616</text><text x="199.50" y="64.42" fill="#2a2a3a" stroke="#2a2a3a" stroke-width="0.1">565</text><text x="212.50" y="64.42" fill="#2a2a3a" stroke="#2a2a3a" stroke-width="0.1">506</text><text x="121.50" y="69.30" fill="#2a2a3a" stroke="#2a2a3a" stroke-width="0.1">195</text><text x="134.50" y="69.30" fill="#1e2060" stroke="#1e2060" stroke-width="0.1">157</text><text x="147.50" y="69.30" fill="#1e2060" stroke="#1e2060" stroke-width="0.1">127</text><text x="160.50" y="69.30" fill="#4a1c24" stroke="#4a1c24" stroke-width="0.1">229</text><text x="173.50" y="69.30" fill="#2a2a3a" stroke="#2a2a3a" stroke-width="0.1">227</text><text x="186.50" y="69.30" fill="#2a2a3a" stroke="#2a2a3a" stroke-width="0.1">203</text><text x="199.50" y="69.30" fill="#2a2a3a" stroke="#2a2a3a" stroke-width="0.1">198</text><text x="212.50" y="69.30" fill="#2a2a3a" stroke="#2a2a3a" stroke-width="0.1">182</text><text x="121.50" y="74.18" fill="#2a2a3a" stroke="#2a2a3a" stroke-width="0.1">106</text><text x="134.50" y="74.18" fill="#1e2060" stroke="#1e2060" stroke-width="0.1">82</text><text x="147.50" y="74.18" fill="#1e2060" stroke="#1e2060" stroke-width="0.1">78</text><text x="160.50" y="74.18" fill="#4a1c24" stroke="#4a1c24" stroke-width="0.1">135</text><text x="173.50" y="74.18" fill="#2a2a3a" stroke="#2a2a3a" stroke-width="0.1">130</text><text x="186.50" y="74.18" fill="#2a2a3a" stroke="#2a2a3a" stroke-width="0.1">121</text><text x="199.50" y="74.18" fill="#2a2a3a" stroke="#2a2a3a" stroke-width="0.1">125</text><text x="212.50" y="74.18" fill="#1e2060" stroke="#1e2060" stroke-width="0.1">77</text><text x="121.50" y="79.06" fill="#1e2060" stroke="#1e2060" stroke-width="0.1">7</text><text x="134.50" y="79.06" fill="#2a2a3a" stroke="#2a2a3a" stroke-width="0.1">787</text><text x="147.50" y="79.06" fill="#2a2a3a" stroke="#2a2a3a" stroke-width="0.1">226</text><text x="160.50" y="79.06" fill="#7c0c0c" stroke="#7c0c0c" stroke-width="0.1">3154</text><text x="173.50" y="79.06" fill="#2a2a3a" stroke="#2a2a3a" stroke-width="0.1">2093</text><text x="186.50" y="79.06" fill="#2a2a3a" stroke="#2a2a3a" stroke-width="0.1">1099</text><text x="199.50" y="79.06" fill="#2a2a3a" stroke="#2a2a3a" stroke-width="0.1">1414</text><text x="212.50" y="79.06" fill="#2a2a3a" stroke="#2a2a3a" stroke-width="0.1">700</text><text x="121.50" y="83.94" fill="#1e2060" stroke="#1e2060" stroke-width="0.1">123</text><text x="134.50" y="83.94" fill="#2a2a3a" stroke="#2a2a3a" stroke-width="0.1">1413</text><text x="147.50" y="83.94" fill="#1e2060" stroke="#1e2060" stroke-width="0.1">605</text><text x="160.50" y="83.94" fill="#7c0c0c" stroke="#7c0c0c" stroke-width="0.1">7146</text><text x="173.50" y="83.94" fill="#2a2a3a" stroke="#2a2a3a" stroke-width="0.1">3557</text><text x="186.50" y="83.94" fill="#2a2a3a" stroke="#2a2a3a" stroke-width="0.1">4748</text><text x="199.50" y="83.94" fill="#2a2a3a" stroke="#2a2a3a" stroke-width="0.1">4336</text><text x="212.50" y="83.94" fill="#1e2060" stroke="#1e2060" stroke-width="0.1">739</text><text x="121.50" y="88.82" fill="#1e2060" stroke="#1e2060" stroke-width="0.1">61</text><text x="134.50" y="88.82" fill="#1e2060" stroke="#1e2060" stroke-width="0.1">43</text><text x="147.50" y="88.82" fill="#1e2060" stroke="#1e2060" stroke-width="0.1">62</text><text x="160.50" y="88.82" fill="#2a2a3a" stroke="#2a2a3a" stroke-width="0.1">116</text><text x="173.50" y="88.82" fill="#2a2a3a" stroke="#2a2a3a" stroke-width="0.1">101</text><text x="186.50" y="88.82" fill="#2a2a3a" stroke="#2a2a3a" stroke-width="0.1">105</text><text x="199.50" y="88.82" fill="#4a1c24" stroke="#4a1c24" stroke-width="0.1">123</text><text x="212.50" y="88.82" fill="#2a2a3a" stroke="#2a2a3a" stroke-width="0.1">76</text><text x="121.50" y="93.70" fill="#1e2060" stroke="#1e2060" stroke-width="0.1">135</text><text x="134.50" y="93.70" fill="#1e2060" stroke="#1e2060" stroke-width="0.1">520</text><text x="147.50" y="93.70" fill="#1e2060" stroke="#1e2060" stroke-width="0.1">287</text><text x="160.50" y="93.70" fill="#4a1c24" stroke="#4a1c24" stroke-width="0.1">4259</text><text x="173.50" y="93.70" fill="#2a2a3a" stroke="#2a2a3a" stroke-width="0.1">1786</text><text x="186.50" y="93.70" fill="#2a2a3a" stroke="#2a2a3a" stroke-width="0.1">3058</text><text x="199.50" y="93.70" fill="#4a1c24" stroke="#4a1c24" stroke-width="0.1">4547</text><text x="212.50" y="93.70" fill="#2a2a3a" stroke="#2a2a3a" stroke-width="0.1">1006</text><text x="121.50" y="98.58" fill="#1e2060" stroke="#1e2060" stroke-width="0.1">7</text><text x="134.50" y="98.58" fill="#2a2a3a" stroke="#2a2a3a" stroke-width="0.1">66</text><text x="147.50" y="98.58" fill="#1e2060" stroke="#1e2060" stroke-width="0.1">20</text><text x="160.50" y="98.58" fill="#4a1c24" stroke="#4a1c24" stroke-width="0.1">304</text><text x="173.50" y="98.58" fill="#2a2a3a" stroke="#2a2a3a" stroke-width="0.1">153</text><text x="186.50" y="98.58" fill="#2a2a3a" stroke="#2a2a3a" stroke-width="0.1">240</text><text x="199.50" y="98.58" fill="#7c0c0c" stroke="#7c0c0c" stroke-width="0.1">600</text><text x="212.50" y="98.58" fill="#2a2a3a" stroke="#2a2a3a" stroke-width="0.1">91</text><text x="121.50" y="103.46" fill="#1e2060" stroke="#1e2060" stroke-width="0.1">11</text><text x="134.50" y="103.46" fill="#2a2a3a" stroke="#2a2a3a" stroke-width="0.1">65</text><text x="147.50" y="103.46" fill="#1e2060" stroke="#1e2060" stroke-width="0.1">23</text><text x="160.50" y="103.46" fill="#4a1c24" stroke="#4a1c24" stroke-width="0.1">157</text><text x="173.50" y="103.46" fill="#2a2a3a" stroke="#2a2a3a" stroke-width="0.1">183</text><text x="186.50" y="103.46" fill="#2a2a3a" stroke="#2a2a3a" stroke-width="0.1">234</text><text x="199.50" y="103.46" fill="#7c0c0c" stroke="#7c0c0c" stroke-width="0.1">337</text><text x="212.50" y="103.46" fill="#2a2a3a" stroke="#2a2a3a" stroke-width="0.1">122</text><text x="121.50" y="108.34" fill="#1e2060" stroke="#1e2060" stroke-width="0.1">46</text><text x="134.50" y="108.34" fill="#2a2a3a" stroke="#2a2a3a" stroke-width="0.1">205</text><text x="147.50" y="108.34" fill="#1e2060" stroke="#1e2060" stroke-width="0.1">125</text><text x="160.50" y="108.34" fill="#4a1c24" stroke="#4a1c24" stroke-width="0.1">377</text><text x="173.50" y="108.34" fill="#2a2a3a" stroke="#2a2a3a" stroke-width="0.1">357</text><text x="186.50" y="108.34" fill="#2a2a3a" stroke="#2a2a3a" stroke-width="0.1">250</text><text x="199.50" y="108.34" fill="#4a1c24" stroke="#4a1c24" stroke-width="0.1">608</text><text x="212.50" y="108.34" fill="#2a2a3a" stroke="#2a2a3a" stroke-width="0.1">402</text><text x="121.50" y="113.22" fill="#1e2060" stroke="#1e2060" stroke-width="0.1">7</text><text x="134.50" y="113.22" fill="#2a2a3a" stroke="#2a2a3a" stroke-width="0.1">238</text><text x="147.50" y="113.22" fill="#1e2060" stroke="#1e2060" stroke-width="0.1">26</text><text x="160.50" y="113.22" fill="#4a1c24" stroke="#4a1c24" stroke-width="0.1">740</text><text x="173.50" y="113.22" fill="#2a2a3a" stroke="#2a2a3a" stroke-width="0.1">444</text><text x="186.50" y="113.22" fill="#2a2a3a" stroke="#2a2a3a" stroke-width="0.1">589</text><text x="199.50" y="113.22" fill="#4a1c24" stroke="#4a1c24" stroke-width="0.1">1048</text><text x="212.50" y="113.22" fill="#2a2a3a" stroke="#2a2a3a" stroke-width="0.1">606</text><text x="121.50" y="118.10" fill="#1e2060" stroke="#1e2060" stroke-width="0.1">260</text><text x="134.50" y="118.10" fill="#2a2a3a" stroke="#2a2a3a" stroke-width="0.1">396</text><text x="147.50" y="118.10" fill="#1e2060" stroke="#1e2060" stroke-width="0.1">505</text><text x="160.50" y="118.10" fill="#4a1c24" stroke="#4a1c24" stroke-width="0.1">2342</text><text x="173.50" y="118.10" fill="#2a2a3a" stroke="#2a2a3a" stroke-width="0.1">1135</text><text x="186.50" y="118.10" fill="#1e2060" stroke="#1e2060" stroke-width="0.1">835</text><text x="199.50" y="118.10" fill="#4a1c24" stroke="#4a1c24" stroke-width="0.1">2562</text><text x="212.50" y="118.10" fill="#2a2a3a" stroke="#2a2a3a" stroke-width="0.1">1335</text><text x="121.50" y="122.98" fill="#1e2060" stroke="#1e2060" stroke-width="0.1">169</text><text x="134.50" y="122.98" fill="#1e2060" stroke="#1e2060" stroke-width="0.1">119</text><text x="147.50" y="122.98" fill="#1e2060" stroke="#1e2060" stroke-width="0.1">184</text><text x="160.50" y="122.98" fill="#4a1c24" stroke="#4a1c24" stroke-width="0.1">496</text><text x="173.50" y="122.98" fill="#2a2a3a" stroke="#2a2a3a" stroke-width="0.1">371</text><text x="186.50" y="122.98" fill="#2a2a3a" stroke="#2a2a3a" stroke-width="0.1">219</text><text x="199.50" y="122.98" fill="#2a2a3a" stroke="#2a2a3a" stroke-width="0.1">396</text><text x="212.50" y="122.98" fill="#2a2a3a" stroke="#2a2a3a" stroke-width="0.1">245</text><text x="121.50" y="127.86" fill="#1e2060" stroke="#1e2060" stroke-width="0.1">26</text><text x="134.50" y="127.86" fill="#2a2a3a" stroke="#2a2a3a" stroke-width="0.1">92</text><text x="147.50" y="127.86" fill="#1e2060" stroke="#1e2060" stroke-width="0.1">147</text><text x="160.50" y="127.86" fill="#2a2a3a" stroke="#2a2a3a" stroke-width="0.1">295</text><text x="173.50" y="127.86" fill="#2a2a3a" stroke="#2a2a3a" stroke-width="0.1">318</text><text x="186.50" y="127.86" fill="#2a2a3a" stroke="#2a2a3a" stroke-width="0.1">1410</text><text x="199.50" y="127.86" fill="#2a2a3a" stroke="#2a2a3a" stroke-width="0.1">1836</text><text x="212.50" y="127.86" fill="#7c0c0c" stroke="#7c0c0c" stroke-width="0.1">2595</text><text x="121.50" y="132.74" fill="#1e2060" stroke="#1e2060" stroke-width="0.1">101</text><text x="134.50" y="132.74" fill="#2a2a3a" stroke="#2a2a3a" stroke-width="0.1">153</text><text x="147.50" y="132.74" fill="#1e2060" stroke="#1e2060" stroke-width="0.1">134</text><text x="160.50" y="132.74" fill="#2a2a3a" stroke="#2a2a3a" stroke-width="0.1">275</text><text x="173.50" y="132.74" fill="#2a2a3a" stroke="#2a2a3a" stroke-width="0.1">256</text><text x="186.50" y="132.74" fill="#2a2a3a" stroke="#2a2a3a" stroke-width="0.1">226</text><text x="199.50" y="132.74" fill="#4a1c24" stroke="#4a1c24" stroke-width="0.1">420</text><text x="212.50" y="132.74" fill="#4a1c24" stroke="#4a1c24" stroke-width="0.1">493</text><text x="121.50" y="137.62" fill="#1e2060" stroke="#1e2060" stroke-width="0.1">37</text><text x="134.50" y="137.62" fill="#2a2a3a" stroke="#2a2a3a" stroke-width="0.1">127</text><text x="147.50" y="137.62" fill="#1e2060" stroke="#1e2060" stroke-width="0.1">64</text><text x="160.50" y="137.62" fill="#2a2a3a" stroke="#2a2a3a" stroke-width="0.1">218</text><text x="173.50" y="137.62" fill="#2a2a3a" stroke="#2a2a3a" stroke-width="0.1">235</text><text x="186.50" y="137.62" fill="#2a2a3a" stroke="#2a2a3a" stroke-width="0.1">149</text><text x="199.50" y="137.62" fill="#7c0c0c" stroke="#7c0c0c" stroke-width="0.1">1016</text><text x="212.50" y="137.62" fill="#4a1c24" stroke="#4a1c24" stroke-width="0.1">673</text><text x="121.50" y="142.50" fill="#1e2060" stroke="#1e2060" stroke-width="0.1">11</text><text x="134.50" y="142.50" fill="#2a2a3a" stroke="#2a2a3a" stroke-width="0.1">79</text><text x="147.50" y="142.50" fill="#1e2060" stroke="#1e2060" stroke-width="0.1">48</text><text x="160.50" y="142.50" fill="#2a2a3a" stroke="#2a2a3a" stroke-width="0.1">190</text><text x="173.50" y="142.50" fill="#2a2a3a" stroke="#2a2a3a" stroke-width="0.1">374</text><text x="186.50" y="142.50" fill="#1e2060" stroke="#1e2060" stroke-width="0.1">107</text><text x="199.50" y="142.50" fill="#7c0c0c" stroke="#7c0c0c" stroke-width="0.1">1647</text><text x="212.50" y="142.50" fill="#4a1c24" stroke="#4a1c24" stroke-width="0.1">1309</text><text x="121.50" y="147.38" fill="#1e2060" stroke="#1e2060" stroke-width="0.1">235</text><text x="134.50" y="147.38" fill="#1e2060" stroke="#1e2060" stroke-width="0.1">529</text><text x="147.50" y="147.38" fill="#1e2060" stroke="#1e2060" stroke-width="0.1">542</text><text x="160.50" y="147.38" fill="#2a2a3a" stroke="#2a2a3a" stroke-width="0.1">253</text><text x="173.50" y="147.38" fill="#2a2a3a" stroke="#2a2a3a" stroke-width="0.1">237</text><text x="186.50" y="147.38" fill="#2a2a3a" stroke="#2a2a3a" stroke-width="0.1">237</text><text x="199.50" y="147.38" fill="#4a1c24" stroke="#4a1c24" stroke-width="0.1">493</text><text x="212.50" y="147.38" fill="#4a1c24" stroke="#4a1c24" stroke-width="0.1">516</text><text x="121.50" y="152.26" fill="#1e2060" stroke="#1e2060" stroke-width="0.1">25</text><text x="134.50" y="152.26" fill="#2a2a3a" stroke="#2a2a3a" stroke-width="0.1">24</text><text x="147.50" y="152.26" fill="#2a2a3a" stroke="#2a2a3a" stroke-width="0.1">21</text><text x="160.50" y="152.26" fill="#2a2a3a" stroke="#2a2a3a" stroke-width="0.1">63</text><text x="173.50" y="152.26" fill="#2a2a3a" stroke="#2a2a3a" stroke-width="0.1">63</text><text x="186.50" y="152.26" fill="#2a2a3a" stroke="#2a2a3a" stroke-width="0.1">565</text><text x="199.50" y="152.26" fill="#4a1c24" stroke="#4a1c24" stroke-width="0.1">2900</text><text x="212.50" y="152.26" fill="#7c0c0c" stroke="#7c0c0c" stroke-width="0.1">3629</text><text x="121.50" y="157.14" fill="#1e2060" stroke="#1e2060" stroke-width="0.1">11</text><text x="134.50" y="157.14" fill="#2a2a3a" stroke="#2a2a3a" stroke-width="0.1">154</text><text x="147.50" y="157.14" fill="#2a2a3a" stroke="#2a2a3a" stroke-width="0.1">135</text><text x="160.50" y="157.14" fill="#2a2a3a" stroke="#2a2a3a" stroke-width="0.1">279</text><text x="173.50" y="157.14" fill="#2a2a3a" stroke="#2a2a3a" stroke-width="0.1">311</text><text x="186.50" y="157.14" fill="#2a2a3a" stroke="#2a2a3a" stroke-width="0.1">272</text><text x="199.50" y="157.14" fill="#4a1c24" stroke="#4a1c24" stroke-width="0.1">1654</text><text x="212.50" y="157.14" fill="#4a1c24" stroke="#4a1c24" stroke-width="0.1">1634</text><text x="121.50" y="162.02" fill="#1e2060" stroke="#1e2060" stroke-width="0.1">54</text><text x="134.50" y="162.02" fill="#2a2a3a" stroke="#2a2a3a" stroke-width="0.1">66</text><text x="147.50" y="162.02" fill="#2a2a3a" stroke="#2a2a3a" stroke-width="0.1">130</text><text x="160.50" y="162.02" fill="#2a2a3a" stroke="#2a2a3a" stroke-width="0.1">529</text><text x="173.50" y="162.02" fill="#2a2a3a" stroke="#2a2a3a" stroke-width="0.1">261</text><text x="186.50" y="162.02" fill="#2a2a3a" stroke="#2a2a3a" stroke-width="0.1">732</text><text x="199.50" y="162.02" fill="#7c0c0c" stroke="#7c0c0c" stroke-width="0.1">4671</text><text x="212.50" y="162.02" fill="#4a1c24" stroke="#4a1c24" stroke-width="0.1">5587</text><text x="121.50" y="166.90" fill="#1e2060" stroke="#1e2060" stroke-width="0.1">14</text><text x="134.50" y="166.90" fill="#2a2a3a" stroke="#2a2a3a" stroke-width="0.1">19</text><text x="147.50" y="166.90" fill="#2a2a3a" stroke="#2a2a3a" stroke-width="0.1">30</text><text x="160.50" y="166.90" fill="#2a2a3a" stroke="#2a2a3a" stroke-width="0.1">87</text><text x="173.50" y="166.90" fill="#2a2a3a" stroke="#2a2a3a" stroke-width="0.1">139</text><text x="186.50" y="166.90" fill="#2a2a3a" stroke="#2a2a3a" stroke-width="0.1">290</text><text x="199.50" y="166.90" fill="#7c0c0c" stroke="#7c0c0c" stroke-width="0.1">2797</text><text x="212.50" y="166.90" fill="#7c0c0c" stroke="#7c0c0c" stroke-width="0.1">2793</text><text x="121.50" y="171.78" fill="#1e2060" stroke="#1e2060" stroke-width="0.1">7</text><text x="134.50" y="171.78" fill="#1e2060" stroke="#1e2060" stroke-width="0.1">61</text><text x="147.50" y="171.78" fill="#1e2060" stroke="#1e2060" stroke-width="0.1">15</text><text x="160.50" y="171.78" fill="#2a2a3a" stroke="#2a2a3a" stroke-width="0.1">1134</text><text x="173.50" y="171.78" fill="#2a2a3a" stroke="#2a2a3a" stroke-width="0.1">833</text><text x="186.50" y="171.78" fill="#2a2a3a" stroke="#2a2a3a" stroke-width="0.1">1815</text><text x="199.50" y="171.78" fill="#7c0c0c" stroke="#7c0c0c" stroke-width="0.1">3324</text><text x="212.50" y="171.78" fill="#2a2a3a" stroke="#2a2a3a" stroke-width="0.1">2426</text><text x="121.50" y="176.66" fill="#1e2060" stroke="#1e2060" stroke-width="0.1">12</text><text x="134.50" y="176.66" fill="#2a2a3a" stroke="#2a2a3a" stroke-width="0.1">10</text><text x="147.50" y="176.66" fill="#2a2a3a" stroke="#2a2a3a" stroke-width="0.1">10</text><text x="160.50" y="176.66" fill="#2a2a3a" stroke="#2a2a3a" stroke-width="0.1">22</text><text x="173.50" y="176.66" fill="#2a2a3a" stroke="#2a2a3a" stroke-width="0.1">23</text><text x="186.50" y="176.66" fill="#2a2a3a" stroke="#2a2a3a" stroke-width="0.1">129</text><text x="199.50" y="176.66" fill="#7c0c0c" stroke="#7c0c0c" stroke-width="0.1">353</text><text x="212.50" y="176.66" fill="#2a2a3a" stroke="#2a2a3a" stroke-width="0.1">225</text><text x="121.50" y="181.54" fill="#2a2a3a" stroke="#2a2a3a" stroke-width="0.1">120</text><text x="134.50" y="181.54" fill="#1e2060" stroke="#1e2060" stroke-width="0.1">90</text><text x="147.50" y="181.54" fill="#1e2060" stroke="#1e2060" stroke-width="0.1">58</text><text x="160.50" y="181.54" fill="#2a2a3a" stroke="#2a2a3a" stroke-width="0.1">100</text><text x="173.50" y="181.54" fill="#2a2a3a" stroke="#2a2a3a" stroke-width="0.1">94</text><text x="186.50" y="181.54" fill="#2a2a3a" stroke="#2a2a3a" stroke-width="0.1">95</text><text x="199.50" y="181.54" fill="#7c0c0c" stroke="#7c0c0c" stroke-width="0.1">171</text><text x="212.50" y="181.54" fill="#2a2a3a" stroke="#2a2a3a" stroke-width="0.1">109</text><text x="121.50" y="186.42" fill="#1e2060" stroke="#1e2060" stroke-width="0.1">196</text><text x="134.50" y="186.42" fill="#2a2a3a" stroke="#2a2a3a" stroke-width="0.1">108</text><text x="147.50" y="186.42" fill="#2a2a3a" stroke="#2a2a3a" stroke-width="0.1">109</text><text x="160.50" y="186.42" fill="#2a2a3a" stroke="#2a2a3a" stroke-width="0.1">204</text><text x="173.50" y="186.42" fill="#2a2a3a" stroke="#2a2a3a" stroke-width="0.1">258</text><text x="186.50" y="186.42" fill="#4a1c24" stroke="#4a1c24" stroke-width="0.1">800</text><text x="199.50" y="186.42" fill="#4a1c24" stroke="#4a1c24" stroke-width="0.1">809</text><text x="212.50" y="186.42" fill="#1e2060" stroke="#1e2060" stroke-width="0.1">94</text><text x="121.50" y="191.30" fill="#1e2060" stroke="#1e2060" stroke-width="0.1">268</text><text x="134.50" y="191.30" fill="#2a2a3a" stroke="#2a2a3a" stroke-width="0.1">665</text><text x="147.50" y="191.30" fill="#1e2060" stroke="#1e2060" stroke-width="0.1">194</text><text x="160.50" y="191.30" fill="#2a2a3a" stroke="#2a2a3a" stroke-width="0.1">366</text><text x="173.50" y="191.30" fill="#2a2a3a" stroke="#2a2a3a" stroke-width="0.1">444</text><text x="186.50" y="191.30" fill="#4a1c24" stroke="#4a1c24" stroke-width="0.1">1536</text><text x="199.50" y="191.30" fill="#7c0c0c" stroke="#7c0c0c" stroke-width="0.1">2153</text><text x="212.50" y="191.30" fill="#1e2060" stroke="#1e2060" stroke-width="0.1">313</text><text x="121.50" y="196.18" fill="#1e2060" stroke="#1e2060" stroke-width="0.1">65</text><text x="134.50" y="196.18" fill="#2a2a3a" stroke="#2a2a3a" stroke-width="0.1">179</text><text x="147.50" y="196.18" fill="#2a2a3a" stroke="#2a2a3a" stroke-width="0.1">113</text><text x="160.50" y="196.18" fill="#2a2a3a" stroke="#2a2a3a" stroke-width="0.1">563</text><text x="173.50" y="196.18" fill="#2a2a3a" stroke="#2a2a3a" stroke-width="0.1">450</text><text x="186.50" y="196.18" fill="#2a2a3a" stroke="#2a2a3a" stroke-width="0.1">730</text><text x="199.50" y="196.18" fill="#7c0c0c" stroke="#7c0c0c" stroke-width="0.1">2600</text><text x="212.50" y="196.18" fill="#2a2a3a" stroke="#2a2a3a" stroke-width="0.1">512</text><text x="121.50" y="201.06" fill="#1e2060" stroke="#1e2060" stroke-width="0.1">57</text><text x="134.50" y="201.06" fill="#2a2a3a" stroke="#2a2a3a" stroke-width="0.1">21</text><text x="147.50" y="201.06" fill="#2a2a3a" stroke="#2a2a3a" stroke-width="0.1">23</text><text x="160.50" y="201.06" fill="#2a2a3a" stroke="#2a2a3a" stroke-width="0.1">63</text><text x="173.50" y="201.06" fill="#2a2a3a" stroke="#2a2a3a" stroke-width="0.1">47</text><text x="186.50" y="201.06" fill="#2a2a3a" stroke="#2a2a3a" stroke-width="0.1">109</text><text x="199.50" y="201.06" fill="#7c0c0c" stroke="#7c0c0c" stroke-width="0.1">756</text><text x="212.50" y="201.06" fill="#2a2a3a" stroke="#2a2a3a" stroke-width="0.1">79</text><text x="121.50" y="205.94" fill="#1e2060" stroke="#1e2060" stroke-width="0.1">23</text><text x="134.50" y="205.94" fill="#2a2a3a" stroke="#2a2a3a" stroke-width="0.1">80</text><text x="147.50" y="205.94" fill="#2a2a3a" stroke="#2a2a3a" stroke-width="0.1">95</text><text x="160.50" y="205.94" fill="#2a2a3a" stroke="#2a2a3a" stroke-width="0.1">168</text><text x="173.50" y="205.94" fill="#2a2a3a" stroke="#2a2a3a" stroke-width="0.1">158</text><text x="186.50" y="205.94" fill="#2a2a3a" stroke="#2a2a3a" stroke-width="0.1">349</text><text x="199.50" y="205.94" fill="#7c0c0c" stroke="#7c0c0c" stroke-width="0.1">1823</text><text x="212.50" y="205.94" fill="#2a2a3a" stroke="#2a2a3a" stroke-width="0.1">211</text><text x="121.50" y="210.82" fill="#1e2060" stroke="#1e2060" stroke-width="0.1">21</text><text x="134.50" y="210.82" fill="#2a2a3a" stroke="#2a2a3a" stroke-width="0.1">31</text><text x="147.50" y="210.82" fill="#2a2a3a" stroke="#2a2a3a" stroke-width="0.1">24</text><text x="160.50" y="210.82" fill="#2a2a3a" stroke="#2a2a3a" stroke-width="0.1">81</text><text x="173.50" y="210.82" fill="#2a2a3a" stroke="#2a2a3a" stroke-width="0.1">134</text><text x="186.50" y="210.82" fill="#2a2a3a" stroke="#2a2a3a" stroke-width="0.1">436</text><text x="199.50" y="210.82" fill="#7c0c0c" stroke="#7c0c0c" stroke-width="0.1">2018</text><text x="212.50" y="210.82" fill="#2a2a3a" stroke="#2a2a3a" stroke-width="0.1">399</text><text x="121.50" y="215.70" fill="#1e2060" stroke="#1e2060" stroke-width="0.1">12</text><text x="134.50" y="215.70" fill="#2a2a3a" stroke="#2a2a3a" stroke-width="0.1">17</text><text x="147.50" y="215.70" fill="#2a2a3a" stroke="#2a2a3a" stroke-width="0.1">18</text><text x="160.50" y="215.70" fill="#2a2a3a" stroke="#2a2a3a" stroke-width="0.1">235</text><text x="173.50" y="215.70" fill="#2a2a3a" stroke="#2a2a3a" stroke-width="0.1">368</text><text x="186.50" y="215.70" fill="#7c0c0c" stroke="#7c0c0c" stroke-width="0.1">2469</text><text x="199.50" y="215.70" fill="#2a2a3a" stroke="#2a2a3a" stroke-width="0.1">17</text><text x="212.50" y="215.70" fill="#1e2060" stroke="#1e2060" stroke-width="0.1">88</text><text x="121.50" y="220.58" fill="#1e2060" stroke="#1e2060" stroke-width="0.1">9</text><text x="134.50" y="220.58" fill="#2a2a3a" stroke="#2a2a3a" stroke-width="0.1">29</text><text x="147.50" y="220.58" fill="#1e2060" stroke="#1e2060" stroke-width="0.1">14</text><text x="160.50" y="220.58" fill="#2a2a3a" stroke="#2a2a3a" stroke-width="0.1">61</text><text x="173.50" y="220.58" fill="#2a2a3a" stroke="#2a2a3a" stroke-width="0.1">71</text><text x="186.50" y="220.58" fill="#7c0c0c" stroke="#7c0c0c" stroke-width="0.1">370</text><text x="199.50" y="220.58" fill="#2a2a3a" stroke="#2a2a3a" stroke-width="0.1">93</text><text x="212.50" y="220.58" fill="#1e2060" stroke="#1e2060" stroke-width="0.1">11</text><text x="121.50" y="225.46" fill="#1e2060" stroke="#1e2060" stroke-width="0.1">14</text><text x="134.50" y="225.46" fill="#2a2a3a" stroke="#2a2a3a" stroke-width="0.1">18</text><text x="147.50" y="225.46" fill="#1e2060" stroke="#1e2060" stroke-width="0.1">15</text><text x="160.50" y="225.46" fill="#2a2a3a" stroke="#2a2a3a" stroke-width="0.1">46</text><text x="173.50" y="225.46" fill="#2a2a3a" stroke="#2a2a3a" stroke-width="0.1">30</text><text x="186.50" y="225.46" fill="#7c0c0c" stroke="#7c0c0c" stroke-width="0.1">377</text><text x="199.50" y="225.46" fill="#2a2a3a" stroke="#2a2a3a" stroke-width="0.1">47</text><text x="212.50" y="225.46" fill="#1e2060" stroke="#1e2060" stroke-width="0.1">16</text><text x="121.50" y="230.34" fill="#1e2060" stroke="#1e2060" stroke-width="0.1">9</text><text x="134.50" y="230.34" fill="#1e2060" stroke="#1e2060" stroke-width="0.1">38</text><text x="147.50" y="230.34" fill="#1e2060" stroke="#1e2060" stroke-width="0.1">23</text><text x="160.50" y="230.34" fill="#4a1c24" stroke="#4a1c24" stroke-width="0.1">112</text><text x="173.50" y="230.34" fill="#2a2a3a" stroke="#2a2a3a" stroke-width="0.1">95</text><text x="186.50" y="230.34" fill="#4a1c24" stroke="#4a1c24" stroke-width="0.1">120</text><text x="199.50" y="230.34" fill="#1e2060" stroke="#1e2060" stroke-width="0.1">20</text><text x="212.50" y="230.34" fill="#1e2060" stroke="#1e2060" stroke-width="0.1">7</text><text x="121.50" y="235.22" fill="#1e2060" stroke="#1e2060" stroke-width="0.1">40</text><text x="134.50" y="235.22" fill="#1e2060" stroke="#1e2060" stroke-width="0.1">35</text><text x="147.50" y="235.22" fill="#1e2060" stroke="#1e2060" stroke-width="0.1">35</text><text x="160.50" y="235.22" fill="#2a2a3a" stroke="#2a2a3a" stroke-width="0.1">77</text><text x="173.50" y="235.22" fill="#2a2a3a" stroke="#2a2a3a" stroke-width="0.1">75</text><text x="186.50" y="235.22" fill="#7c0c0c" stroke="#7c0c0c" stroke-width="0.1">146</text><text x="199.50" y="235.22" fill="#1e2060" stroke="#1e2060" stroke-width="0.1">20</text><text x="212.50" y="235.22" fill="#1e2060" stroke="#1e2060" stroke-width="0.1">27</text><text x="121.50" y="240.10" fill="#1e2060" stroke="#1e2060" stroke-width="0.1">35</text><text x="134.50" y="240.10" fill="#1e2060" stroke="#1e2060" stroke-width="0.1">45</text><text x="147.50" y="240.10" fill="#1e2060" stroke="#1e2060" stroke-width="0.1">31</text><text x="160.50" y="240.10" fill="#2a2a3a" stroke="#2a2a3a" stroke-width="0.1">2177</text><text x="173.50" y="240.10" fill="#2a2a3a" stroke="#2a2a3a" stroke-width="0.1">1559</text><text x="186.50" y="240.10" fill="#7c0c0c" stroke="#7c0c0c" stroke-width="0.1">4222</text><text x="199.50" y="240.10" fill="#1e2060" stroke="#1e2060" stroke-width="0.1">733</text><text x="212.50" y="240.10" fill="#1e2060" stroke="#1e2060" stroke-width="0.1">26</text><text x="121.50" y="244.98" fill="#1e2060" stroke="#1e2060" stroke-width="0.1">38</text><text x="134.50" y="244.98" fill="#2a2a3a" stroke="#2a2a3a" stroke-width="0.1">88</text><text x="147.50" y="244.98" fill="#1e2060" stroke="#1e2060" stroke-width="0.1">48</text><text x="160.50" y="244.98" fill="#2a2a3a" stroke="#2a2a3a" stroke-width="0.1">375</text><text x="173.50" y="244.98" fill="#2a2a3a" stroke="#2a2a3a" stroke-width="0.1">312</text><text x="186.50" y="244.98" fill="#7c0c0c" stroke="#7c0c0c" stroke-width="0.1">573</text><text x="199.50" y="244.98" fill="#2a2a3a" stroke="#2a2a3a" stroke-width="0.1">161</text><text x="212.50" y="244.98" fill="#2a2a3a" stroke="#2a2a3a" stroke-width="0.1">141</text><text x="121.50" y="249.86" fill="#1e2060" stroke="#1e2060" stroke-width="0.1">15</text><text x="134.50" y="249.86" fill="#2a2a3a" stroke="#2a2a3a" stroke-width="0.1">382</text><text x="147.50" y="249.86" fill="#1e2060" stroke="#1e2060" stroke-width="0.1">168</text><text x="160.50" y="249.86" fill="#2a2a3a" stroke="#2a2a3a" stroke-width="0.1">3902</text><text x="173.50" y="249.86" fill="#2a2a3a" stroke="#2a2a3a" stroke-width="0.1">2257</text><text x="186.50" y="249.86" fill="#7c0c0c" stroke="#7c0c0c" stroke-width="0.1">4802</text><text x="199.50" y="249.86" fill="#2a2a3a" stroke="#2a2a3a" stroke-width="0.1">1077</text><text x="212.50" y="249.86" fill="#1e2060" stroke="#1e2060" stroke-width="0.1">15</text><text x="121.50" y="254.74" fill="#1e2060" stroke="#1e2060" stroke-width="0.1">128</text><text x="134.50" y="254.74" fill="#2a2a3a" stroke="#2a2a3a" stroke-width="0.1">345</text><text x="147.50" y="254.74" fill="#2a2a3a" stroke="#2a2a3a" stroke-width="0.1">254</text><text x="160.50" y="254.74" fill="#2a2a3a" stroke="#2a2a3a" stroke-width="0.1">407</text><text x="173.50" y="254.74" fill="#4a1c24" stroke="#4a1c24" stroke-width="0.1">458</text><text x="186.50" y="254.74" fill="#1e2060" stroke="#1e2060" stroke-width="0.1">138</text><text x="199.50" y="254.74" fill="#2a2a3a" stroke="#2a2a3a" stroke-width="0.1">269</text><text x="212.50" y="254.74" fill="#2a2a3a" stroke="#2a2a3a" stroke-width="0.1">266</text><text x="121.50" y="259.62" fill="#1e2060" stroke="#1e2060" stroke-width="0.1">66</text><text x="134.50" y="259.62" fill="#2a2a3a" stroke="#2a2a3a" stroke-width="0.1">245</text><text x="147.50" y="259.62" fill="#2a2a3a" stroke="#2a2a3a" stroke-width="0.1">398</text><text x="160.50" y="259.62" fill="#4a1c24" stroke="#4a1c24" stroke-width="0.1">848</text><text x="173.50" y="259.62" fill="#4a1c24" stroke="#4a1c24" stroke-width="0.1">865</text><text x="186.50" y="259.62" fill="#1e2060" stroke="#1e2060" stroke-width="0.1">290</text><text x="199.50" y="259.62" fill="#2a2a3a" stroke="#2a2a3a" stroke-width="0.1">285</text><text x="212.50" y="259.62" fill="#2a2a3a" stroke="#2a2a3a" stroke-width="0.1">555</text><text x="121.50" y="264.50" fill="#1e2060" stroke="#1e2060" stroke-width="0.1">123</text><text x="134.50" y="264.50" fill="#2a2a3a" stroke="#2a2a3a" stroke-width="0.1">258</text><text x="147.50" y="264.50" fill="#2a2a3a" stroke="#2a2a3a" stroke-width="0.1">144</text><text x="160.50" y="264.50" fill="#7c0c0c" stroke="#7c0c0c" stroke-width="0.1">876</text><text x="173.50" y="264.50" fill="#4a1c24" stroke="#4a1c24" stroke-width="0.1">675</text><text x="186.50" y="264.50" fill="#1e2060" stroke="#1e2060" stroke-width="0.1">225</text><text x="199.50" y="264.50" fill="#2a2a3a" stroke="#2a2a3a" stroke-width="0.1">146</text><text x="212.50" y="264.50" fill="#2a2a3a" stroke="#2a2a3a" stroke-width="0.1">172</text><text x="121.50" y="269.38" fill="#2a2a3a" stroke="#2a2a3a" stroke-width="0.1">141</text><text x="134.50" y="269.38" fill="#2a2a3a" stroke="#2a2a3a" stroke-width="0.1">107</text><text x="147.50" y="269.38" fill="#2a2a3a" stroke="#2a2a3a" stroke-width="0.1">125</text><text x="160.50" y="269.38" fill="#4a1c24" stroke="#4a1c24" stroke-width="0.1">375</text><text x="173.50" y="269.38" fill="#4a1c24" stroke="#4a1c24" stroke-width="0.1">378</text><text x="186.50" y="269.38" fill="#2a2a3a" stroke="#2a2a3a" stroke-width="0.1">135</text><text x="199.50" y="269.38" fill="#1e2060" stroke="#1e2060" stroke-width="0.1">57</text><text x="212.50" y="269.38" fill="#1e2060" stroke="#1e2060" stroke-width="0.1">45</text><text x="121.50" y="274.26" fill="#2a2a3a" stroke="#2a2a3a" stroke-width="0.1">320</text><text x="134.50" y="274.26" fill="#2a2a3a" stroke="#2a2a3a" stroke-width="0.1">208</text><text x="147.50" y="274.26" fill="#2a2a3a" stroke="#2a2a3a" stroke-width="0.1">209</text><text x="160.50" y="274.26" fill="#4a1c24" stroke="#4a1c24" stroke-width="0.1">635</text><text x="173.50" y="274.26" fill="#4a1c24" stroke="#4a1c24" stroke-width="0.1">608</text><text x="186.50" y="274.26" fill="#2a2a3a" stroke="#2a2a3a" stroke-width="0.1">293</text><text x="199.50" y="274.26" fill="#1e2060" stroke="#1e2060" stroke-width="0.1">149</text><text x="212.50" y="274.26" fill="#1e2060" stroke="#1e2060" stroke-width="0.1">137</text><text x="121.50" y="279.14" fill="#2a2a3a" stroke="#2a2a3a" stroke-width="0.1">1658</text><text x="134.50" y="279.14" fill="#2a2a3a" stroke="#2a2a3a" stroke-width="0.1">716</text><text x="147.50" y="279.14" fill="#2a2a3a" stroke="#2a2a3a" stroke-width="0.1">722</text><text x="160.50" y="279.14" fill="#4a1c24" stroke="#4a1c24" stroke-width="0.1">3606</text><text x="173.50" y="279.14" fill="#4a1c24" stroke="#4a1c24" stroke-width="0.1">3196</text><text x="186.50" y="279.14" fill="#2a2a3a" stroke="#2a2a3a" stroke-width="0.1">749</text><text x="199.50" y="279.14" fill="#1e2060" stroke="#1e2060" stroke-width="0.1">215</text><text x="212.50" y="279.14" fill="#1e2060" stroke="#1e2060" stroke-width="0.1">230</text><text x="121.50" y="284.02" fill="#2a2a3a" stroke="#2a2a3a" stroke-width="0.1">126</text><text x="134.50" y="284.02" fill="#2a2a3a" stroke="#2a2a3a" stroke-width="0.1">89</text><text x="147.50" y="284.02" fill="#2a2a3a" stroke="#2a2a3a" stroke-width="0.1">103</text><text x="160.50" y="284.02" fill="#4a1c24" stroke="#4a1c24" stroke-width="0.1">229</text><text x="173.50" y="284.02" fill="#4a1c24" stroke="#4a1c24" stroke-width="0.1">190</text><text x="186.50" y="284.02" fill="#2a2a3a" stroke="#2a2a3a" stroke-width="0.1">78</text><text x="199.50" y="284.02" fill="#1e2060" stroke="#1e2060" stroke-width="0.1">59</text><text x="212.50" y="284.02" fill="#1e2060" stroke="#1e2060" stroke-width="0.1">73</text><text x="121.50" y="288.90" fill="#2a2a3a" stroke="#2a2a3a" stroke-width="0.1">103</text><text x="134.50" y="288.90" fill="#2a2a3a" stroke="#2a2a3a" stroke-width="0.1">63</text><text x="147.50" y="288.90" fill="#2a2a3a" stroke="#2a2a3a" stroke-width="0.1">62</text><text x="160.50" y="288.90" fill="#4a1c24" stroke="#4a1c24" stroke-width="0.1">137</text><text x="173.50" y="288.90" fill="#4a1c24" stroke="#4a1c24" stroke-width="0.1">145</text><text x="186.50" y="288.90" fill="#2a2a3a" stroke="#2a2a3a" stroke-width="0.1">105</text><text x="199.50" y="288.90" fill="#1e2060" stroke="#1e2060" stroke-width="0.1">35</text><text x="212.50" y="288.90" fill="#1e2060" stroke="#1e2060" stroke-width="0.1">21</text><text x="121.50" y="293.78" fill="#2a2a3a" stroke="#2a2a3a" stroke-width="0.1">1465</text><text x="134.50" y="293.78" fill="#2a2a3a" stroke="#2a2a3a" stroke-width="0.1">1041</text><text x="147.50" y="293.78" fill="#2a2a3a" stroke="#2a2a3a" stroke-width="0.1">1075</text><text x="160.50" y="293.78" fill="#4a1c24" stroke="#4a1c24" stroke-width="0.1">3293</text><text x="173.50" y="293.78" fill="#4a1c24" stroke="#4a1c24" stroke-width="0.1">3863</text><text x="186.50" y="293.78" fill="#2a2a3a" stroke="#2a2a3a" stroke-width="0.1">2923</text><text x="199.50" y="293.78" fill="#1e2060" stroke="#1e2060" stroke-width="0.1">823</text><text x="212.50" y="293.78" fill="#1e2060" stroke="#1e2060" stroke-width="0.1">770</text><text x="121.50" y="298.66" fill="#2a2a3a" stroke="#2a2a3a" stroke-width="0.1">74</text><text x="134.50" y="298.66" fill="#2a2a3a" stroke="#2a2a3a" stroke-width="0.1">71</text><text x="147.50" y="298.66" fill="#2a2a3a" stroke="#2a2a3a" stroke-width="0.1">64</text><text x="160.50" y="298.66" fill="#4a1c24" stroke="#4a1c24" stroke-width="0.1">146</text><text x="173.50" y="298.66" fill="#4a1c24" stroke="#4a1c24" stroke-width="0.1">146</text><text x="186.50" y="298.66" fill="#2a2a3a" stroke="#2a2a3a" stroke-width="0.1">105</text><text x="199.50" y="298.66" fill="#1e2060" stroke="#1e2060" stroke-width="0.1">53</text><text x="212.50" y="298.66" fill="#1e2060" stroke="#1e2060" stroke-width="0.1">44</text><text x="121.50" y="303.54" fill="#2a2a3a" stroke="#2a2a3a" stroke-width="0.1">55</text><text x="134.50" y="303.54" fill="#2a2a3a" stroke="#2a2a3a" stroke-width="0.1">71</text><text x="147.50" y="303.54" fill="#2a2a3a" stroke="#2a2a3a" stroke-width="0.1">65</text><text x="160.50" y="303.54" fill="#4a1c24" stroke="#4a1c24" stroke-width="0.1">166</text><text x="173.50" y="303.54" fill="#4a1c24" stroke="#4a1c24" stroke-width="0.1">278</text><text x="186.50" y="303.54" fill="#2a2a3a" stroke="#2a2a3a" stroke-width="0.1">119</text><text x="199.50" y="303.54" fill="#1e2060" stroke="#1e2060" stroke-width="0.1">48</text><text x="212.50" y="303.54" fill="#1e2060" stroke="#1e2060" stroke-width="0.1">25</text><text x="121.50" y="308.42" fill="#2a2a3a" stroke="#2a2a3a" stroke-width="0.1">109</text><text x="134.50" y="308.42" fill="#2a2a3a" stroke="#2a2a3a" stroke-width="0.1">97</text><text x="147.50" y="308.42" fill="#2a2a3a" stroke="#2a2a3a" stroke-width="0.1">111</text><text x="160.50" y="308.42" fill="#4a1c24" stroke="#4a1c24" stroke-width="0.1">270</text><text x="173.50" y="308.42" fill="#4a1c24" stroke="#4a1c24" stroke-width="0.1">334</text><text x="186.50" y="308.42" fill="#2a2a3a" stroke="#2a2a3a" stroke-width="0.1">138</text><text x="199.50" y="308.42" fill="#1e2060" stroke="#1e2060" stroke-width="0.1">59</text><text x="212.50" y="308.42" fill="#1e2060" stroke="#1e2060" stroke-width="0.1">44</text><text x="121.50" y="313.30" fill="#2a2a3a" stroke="#2a2a3a" stroke-width="0.1">104</text><text x="134.50" y="313.30" fill="#2a2a3a" stroke="#2a2a3a" stroke-width="0.1">75</text><text x="147.50" y="313.30" fill="#2a2a3a" stroke="#2a2a3a" stroke-width="0.1">104</text><text x="160.50" y="313.30" fill="#4a1c24" stroke="#4a1c24" stroke-width="0.1">178</text><text x="173.50" y="313.30" fill="#4a1c24" stroke="#4a1c24" stroke-width="0.1">233</text><text x="186.50" y="313.30" fill="#2a2a3a" stroke="#2a2a3a" stroke-width="0.1">131</text><text x="199.50" y="313.30" fill="#1e2060" stroke="#1e2060" stroke-width="0.1">56</text><text x="212.50" y="313.30" fill="#1e2060" stroke="#1e2060" stroke-width="0.1">64</text><text x="121.50" y="318.18" fill="#4a1c24" stroke="#4a1c24" stroke-width="0.1">104</text><text x="134.50" y="318.18" fill="#2a2a3a" stroke="#2a2a3a" stroke-width="0.1">47</text><text x="147.50" y="318.18" fill="#2a2a3a" stroke="#2a2a3a" stroke-width="0.1">45</text><text x="160.50" y="318.18" fill="#2a2a3a" stroke="#2a2a3a" stroke-width="0.1">95</text><text x="173.50" y="318.18" fill="#2a2a3a" stroke="#2a2a3a" stroke-width="0.1">92</text><text x="186.50" y="318.18" fill="#2a2a3a" stroke="#2a2a3a" stroke-width="0.1">60</text><text x="199.50" y="318.18" fill="#1e2060" stroke="#1e2060" stroke-width="0.1">50</text><text x="212.50" y="318.18" fill="#1e2060" stroke="#1e2060" stroke-width="0.1">50</text><text x="121.50" y="323.06" fill="#2a2a3a" stroke="#2a2a3a" stroke-width="0.1">847</text><text x="134.50" y="323.06" fill="#2a2a3a" stroke="#2a2a3a" stroke-width="0.1">391</text><text x="147.50" y="323.06" fill="#2a2a3a" stroke="#2a2a3a" stroke-width="0.1">522</text><text x="160.50" y="323.06" fill="#2a2a3a" stroke="#2a2a3a" stroke-width="0.1">828</text><text x="173.50" y="323.06" fill="#4a1c24" stroke="#4a1c24" stroke-width="0.1">987</text><text x="186.50" y="323.06" fill="#2a2a3a" stroke="#2a2a3a" stroke-width="0.1">407</text><text x="199.50" y="323.06" fill="#1e2060" stroke="#1e2060" stroke-width="0.1">369</text><text x="212.50" y="323.06" fill="#1e2060" stroke="#1e2060" stroke-width="0.1">266</text></g><g font-family="Liberation Sans" font-size="5.1" font-weight="normal" fill="#000" stroke="#000" stroke-width="0.1"><text x="232.6" y="44.70">Zfp36l1</text><text x="232.6" y="49.58">Gimap4</text><text x="232.6" y="54.46">Hod</text><text x="232.6" y="59.34">Ebf1</text><text x="232.6" y="64.22">9630023C09Rik</text><text x="232.6" y="69.10">Cog8</text><text x="232.6" y="73.98">Mef2d</text><text x="232.6" y="78.86">Ebf1</text><text x="232.6" y="83.74">Pde2a</text><text x="232.6" y="88.62">Stk4</text><text x="232.6" y="93.50">Ndg2</text><text x="232.6" y="98.38">A230097K15Rik</text><text x="232.6" y="103.26">Mm.4366.1</text><text x="232.6" y="108.14">Foxo1</text><text x="232.6" y="113.02">Ebf1</text><text x="232.6" y="117.90">1200016E24Rik</text><text x="232.6" y="122.78">Atox1</text><text x="232.6" y="127.66">2010001M09Rik</text><text x="232.6" y="132.54">Tmem64</text><text x="232.6" y="137.42">Foxo1</text><text x="232.6" y="142.30">A130040M12Rik</text><text x="232.6" y="147.18">Rad23a</text><text x="232.6" y="152.06">Cd19</text><text x="232.6" y="156.94">AI447904</text><text x="232.6" y="161.82">Cd79b</text><text x="232.6" y="166.70">Cd79a</text><text x="232.6" y="171.58">Pou2af1</text><text x="232.6" y="176.46">Slamf6</text><text x="232.6" y="181.34">Khsrp</text><text x="232.6" y="186.22">Slc16a1</text><text x="232.6" y="191.10">Ccnd3</text><text x="232.6" y="195.98">Ndg2</text><text x="232.6" y="200.86">Zfpn1</text><text x="232.6" y="205.74">Myl4</text><text x="232.6" y="210.62">Vpreb3</text><text x="232.6" y="215.50">Ighg</text><text x="232.6" y="220.38">Vpreb1 / Vpreb2</text><text x="232.6" y="225.26">Lef1</text><text x="232.6" y="230.14">Scn4b</text><text x="232.6" y="235.02">Bok</text><text x="232.6" y="239.90">Igll1</text><text x="232.6" y="244.78">Bhlhb2</text><text x="232.6" y="249.66">Vpreb1</text><text x="232.6" y="254.54">2210015N04Rik</text><text x="232.6" y="259.42">Ccnd3</text><text x="232.6" y="264.30">Dock9</text><text x="232.6" y="269.18">Fmo2</text><text x="232.6" y="274.06">---</text><text x="232.6" y="278.94">Actb</text><text x="232.6" y="283.82">4930529M08Rik</text><text x="232.6" y="288.70">Txn1</text><text x="232.6" y="293.58">Pnp</text><text x="232.6" y="298.46">4930563E22Rik</text><text x="232.6" y="303.34">Stx1a</text><text x="232.6" y="308.22">Ddx5</text><text x="232.6" y="313.10">Rab6b</text><text x="232.6" y="317.98">Lrch4</text><text x="232.6" y="322.86">Tmem4</text></g></g></svg>
<div class="r" style="left:117.55px;top:35.60px;width:45px;height:6.09px;line-height:6.09px;font-size:5.3px;color:#222;text-align:left;transform:rotate(-90deg);">LMPP</div>
<div class="r" style="left:130.55px;top:35.60px;width:45px;height:6.09px;line-height:6.09px;font-size:5.3px;color:#222;text-align:left;transform:rotate(-90deg);">hCD25<span style="font-size:70%;vertical-align:0.45em;line-height:0">-</span> CLP #1</div>
<div class="r" style="left:143.55px;top:35.60px;width:45px;height:6.09px;line-height:6.09px;font-size:5.3px;color:#222;text-align:left;transform:rotate(-90deg);">hCD25<span style="font-size:70%;vertical-align:0.45em;line-height:0">-</span> CLP #2</div>
<div class="r" style="left:156.55px;top:35.60px;width:45px;height:6.09px;line-height:6.09px;font-size:5.3px;color:#222;text-align:left;transform:rotate(-90deg);">hCD25<span style="font-size:70%;vertical-align:0.45em;line-height:0">+</span> CLP #1</div>
<div class="r" style="left:169.55px;top:35.60px;width:45px;height:6.09px;line-height:6.09px;font-size:5.3px;color:#222;text-align:left;transform:rotate(-90deg);">hCD25<span style="font-size:70%;vertical-align:0.45em;line-height:0">+</span> CLP #2</div>
<div class="r" style="left:182.55px;top:35.60px;width:45px;height:6.09px;line-height:6.09px;font-size:5.3px;color:#222;text-align:left;transform:rotate(-90deg);">pro-B</div>
<div class="r" style="left:195.55px;top:35.60px;width:45px;height:6.09px;line-height:6.09px;font-size:5.3px;color:#222;text-align:left;transform:rotate(-90deg);">pre-B</div>
<div class="r" style="left:208.55px;top:35.60px;width:45px;height:6.09px;line-height:6.09px;font-size:5.3px;color:#222;text-align:left;transform:rotate(-90deg);">mature B</div>
</body></html>
